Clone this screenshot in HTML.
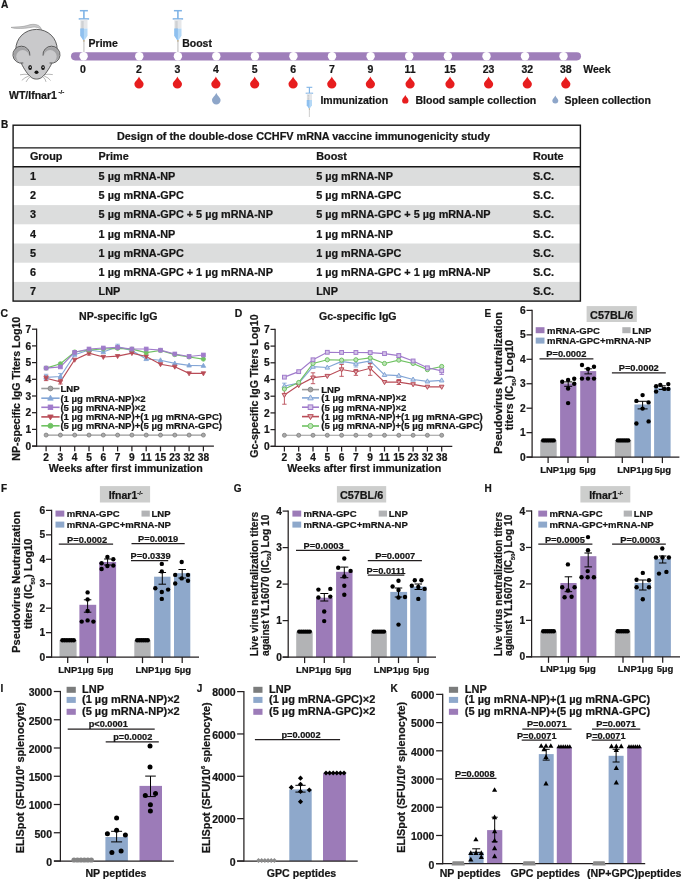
<!DOCTYPE html>
<html><head><meta charset="utf-8"><style>
html,body{margin:0;padding:0;background:#fff;}
svg{display:block;will-change:transform;font-family:"Liberation Sans",sans-serif;font-weight:bold;}
text{stroke:#161616;stroke-width:0.22px;}
</style></head><body>
<svg width="685" height="880" viewBox="0 0 685 880">
<rect width="685" height="880" fill="#fff"/>
<text x="0.9" y="8.4" font-size="10.2" fill="#161616">A</text>
<path d="M11,27.4 C16,26.6 22,27.2 27,25.6 C31,24.0 35,23.8 38.5,25.4 C40,26.3 41,28 41.6,29.6 C39,27.8 36,26.6 32.5,27.2 C27,28.2 22,28.6 17,28.4 C14.5,28.3 12.5,28 11,27.4 Z" fill="#c9c9ca" stroke="#8d8d8d" stroke-width="0.5"/>
<path d="M15.8,50 C15.6,38 25,29.4 36.5,29.4 C48,29.4 57.4,38 57.2,50 L51.6,63.7 C49,69 45,75 41.5,77.6 C38.6,79.6 34.4,79.6 31.5,77.6 C28,75 24,69 21.5,63.7 L15.8,50 Z" fill="#c9c9cb" stroke="#3a3a3a" stroke-width="0.8"/>
<circle cx="21.4" cy="54.7" r="8.5" fill="#c9c9cb"/>
<circle cx="21.4" cy="54.7" r="7.6" fill="#a2a2a4"/>
<circle cx="22.7" cy="56.6" r="6.5" fill="#c9c9cb"/>
<path d="M29.85,55.59 A8.5,8.5 0 1 0 23.31,62.98" fill="none" stroke="#3a3a3a" stroke-width="0.8"/>
<circle cx="51.5" cy="54.7" r="8.5" fill="#c9c9cb"/>
<circle cx="51.5" cy="54.7" r="7.6" fill="#a2a2a4"/>
<circle cx="50.2" cy="56.6" r="6.5" fill="#c9c9cb"/>
<path d="M43.05,55.59 A8.5,8.5 0 1 1 49.59,62.98" fill="none" stroke="#3a3a3a" stroke-width="0.8"/>
<ellipse cx="30.1" cy="67.4" rx="1.85" ry="2.5" fill="#141414"/>
<circle cx="30.2" cy="67.2" r="0.7" fill="#ffffff"/>
<ellipse cx="43" cy="67.4" rx="1.85" ry="2.5" fill="#141414"/>
<circle cx="43.1" cy="67.2" r="0.7" fill="#ffffff"/>
<ellipse cx="36.5" cy="72.3" rx="2.0" ry="1.7" fill="#141414"/>
<path d="M28.0,74.4 Q24,74 20.0,74.8" fill="none" stroke="#6f6f6f" stroke-width="0.5"/>
<path d="M28.8,76.0 Q24.5,77.5 21.8,80.4" fill="none" stroke="#6f6f6f" stroke-width="0.5"/>
<path d="M29.8,77.0 Q27.5,79 26.1,81.9" fill="none" stroke="#6f6f6f" stroke-width="0.5"/>
<path d="M45.0,74.4 Q49,74 52.8,74.6" fill="none" stroke="#6f6f6f" stroke-width="0.5"/>
<path d="M44.2,76.0 Q48.5,77.5 50.6,80.5" fill="none" stroke="#6f6f6f" stroke-width="0.5"/>
<path d="M43.2,77.0 Q45.5,79 46.0,81.9" fill="none" stroke="#6f6f6f" stroke-width="0.5"/>
<text x="9" y="98.9" font-size="10.5" fill="#161616">WT/Ifnar1</text>
<text x="58.6" y="94.2" font-size="6" fill="#161616">-/-</text>
<line x1="79.9" y1="10.7" x2="87.9" y2="10.7" stroke="#7fb3e6" stroke-width="1.5"/>
<line x1="83.9" y1="10.7" x2="83.9" y2="18.9" stroke="#7fb3e6" stroke-width="1.6"/>
<line x1="78.7" y1="18.9" x2="89.1" y2="18.9" stroke="#7fb3e6" stroke-width="1.5"/>
<rect x="80.3" y="19.6" width="7.2" height="8.8" fill="#e6e7e9"/>
<path d="M80.3,28.4 L87.5,28.4 L87.5,35.7 L84.5,40.2 L83.3,40.2 L80.3,35.7 Z" fill="#b4d8f6" stroke="none" stroke-width="1"/>
<path d="M80.3,28.4 L83.9,28.4 L83.9,40.2 L83.3,40.2 L80.3,35.7 Z" fill="#8fc0ef" stroke="none" stroke-width="1"/>
<line x1="81.3" y1="22" x2="83.7" y2="22" stroke="#9a9ea4" stroke-width="0.6"/>
<line x1="81.3" y1="24" x2="83.7" y2="24" stroke="#9a9ea4" stroke-width="0.6"/>
<line x1="81.3" y1="26" x2="83.7" y2="26" stroke="#9a9ea4" stroke-width="0.6"/>
<line x1="81.3" y1="28" x2="83.7" y2="28" stroke="#9a9ea4" stroke-width="0.6"/>
<line x1="83.9" y1="40.2" x2="83.9" y2="52" stroke="#d4d4d4" stroke-width="1.6"/>
<line x1="83.9" y1="40.2" x2="83.9" y2="41.4" stroke="#b8a070" stroke-width="1.4"/>
<line x1="173.9" y1="10.7" x2="181.9" y2="10.7" stroke="#7fb3e6" stroke-width="1.5"/>
<line x1="177.9" y1="10.7" x2="177.9" y2="18.9" stroke="#7fb3e6" stroke-width="1.6"/>
<line x1="172.7" y1="18.9" x2="183.1" y2="18.9" stroke="#7fb3e6" stroke-width="1.5"/>
<rect x="174.3" y="19.6" width="7.2" height="8.8" fill="#e6e7e9"/>
<path d="M174.3,28.4 L181.5,28.4 L181.5,35.7 L178.5,40.2 L177.3,40.2 L174.3,35.7 Z" fill="#b4d8f6" stroke="none" stroke-width="1"/>
<path d="M174.3,28.4 L177.9,28.4 L177.9,40.2 L177.3,40.2 L174.3,35.7 Z" fill="#8fc0ef" stroke="none" stroke-width="1"/>
<line x1="175.3" y1="22" x2="177.7" y2="22" stroke="#9a9ea4" stroke-width="0.6"/>
<line x1="175.3" y1="24" x2="177.7" y2="24" stroke="#9a9ea4" stroke-width="0.6"/>
<line x1="175.3" y1="26" x2="177.7" y2="26" stroke="#9a9ea4" stroke-width="0.6"/>
<line x1="175.3" y1="28" x2="177.7" y2="28" stroke="#9a9ea4" stroke-width="0.6"/>
<line x1="177.9" y1="40.2" x2="177.9" y2="52" stroke="#d4d4d4" stroke-width="1.6"/>
<line x1="177.9" y1="40.2" x2="177.9" y2="41.4" stroke="#b8a070" stroke-width="1.4"/>
<text x="88.6" y="47.4" font-size="10.5" fill="#161616">Prime</text>
<text x="182.2" y="47.4" font-size="10.5" fill="#161616">Boost</text>
<rect x="71" y="52.2" width="510" height="8.2" fill="#9f7fba" rx="4.1"/>
<circle cx="83.6" cy="56.3" r="4.2" fill="#ffffff"/>
<circle cx="139.3" cy="56.3" r="4.2" fill="#ffffff"/>
<circle cx="177.9" cy="56.3" r="4.2" fill="#ffffff"/>
<circle cx="216.3" cy="56.3" r="4.2" fill="#ffffff"/>
<circle cx="254.9" cy="56.3" r="4.2" fill="#ffffff"/>
<circle cx="293.4" cy="56.3" r="4.2" fill="#ffffff"/>
<circle cx="332" cy="56.3" r="4.2" fill="#ffffff"/>
<circle cx="370.6" cy="56.3" r="4.2" fill="#ffffff"/>
<circle cx="409.2" cy="56.3" r="4.2" fill="#ffffff"/>
<circle cx="447.9" cy="56.3" r="4.2" fill="#ffffff"/>
<circle cx="486.5" cy="56.3" r="4.2" fill="#ffffff"/>
<circle cx="525" cy="56.3" r="4.2" fill="#ffffff"/>
<circle cx="563.5" cy="56.3" r="4.2" fill="#ffffff"/>
<text x="82.9" y="72.6" font-size="10.5" text-anchor="middle" fill="#161616">0</text>
<text x="139" y="72.6" font-size="10.5" text-anchor="middle" fill="#161616">2</text>
<text x="177.4" y="72.6" font-size="10.5" text-anchor="middle" fill="#161616">3</text>
<text x="215.9" y="72.6" font-size="10.5" text-anchor="middle" fill="#161616">4</text>
<text x="254.7" y="72.6" font-size="10.5" text-anchor="middle" fill="#161616">5</text>
<text x="293.1" y="72.6" font-size="10.5" text-anchor="middle" fill="#161616">6</text>
<text x="331.8" y="72.6" font-size="10.5" text-anchor="middle" fill="#161616">7</text>
<text x="370.4" y="72.6" font-size="10.5" text-anchor="middle" fill="#161616">9</text>
<text x="410.1" y="72.6" font-size="10.5" text-anchor="middle" fill="#161616">11</text>
<text x="450" y="72.6" font-size="10.5" text-anchor="middle" fill="#161616">15</text>
<text x="488.6" y="72.6" font-size="10.5" text-anchor="middle" fill="#161616">23</text>
<text x="527.3" y="72.6" font-size="10.5" text-anchor="middle" fill="#161616">32</text>
<text x="565.8" y="72.6" font-size="10.5" text-anchor="middle" fill="#161616">38</text>
<text x="583.3" y="72.6" font-size="10.5" fill="#161616">Week</text>
<path d="M139,76.4 C139.8,79.45 143.6,81.24 143.6,84 A4.6,4.6 0 0 1 134.4,84 C134.4,81.24 138.2,79.45 139,76.4 Z" fill="#e71d1e" stroke="none" stroke-width="1"/>
<path d="M177.4,76.4 C178.2,79.45 182,81.24 182,84 A4.6,4.6 0 0 1 172.8,84 C172.8,81.24 176.6,79.45 177.4,76.4 Z" fill="#e71d1e" stroke="none" stroke-width="1"/>
<path d="M215.9,76.4 C216.7,79.45 220.5,81.24 220.5,84 A4.6,4.6 0 0 1 211.3,84 C211.3,81.24 215.1,79.45 215.9,76.4 Z" fill="#e71d1e" stroke="none" stroke-width="1"/>
<path d="M254.7,76.4 C255.5,79.45 259.3,81.24 259.3,84 A4.6,4.6 0 0 1 250.1,84 C250.1,81.24 253.9,79.45 254.7,76.4 Z" fill="#e71d1e" stroke="none" stroke-width="1"/>
<path d="M293.1,76.4 C293.9,79.45 297.7,81.24 297.7,84 A4.6,4.6 0 0 1 288.5,84 C288.5,81.24 292.3,79.45 293.1,76.4 Z" fill="#e71d1e" stroke="none" stroke-width="1"/>
<path d="M331.8,76.4 C332.6,79.45 336.4,81.24 336.4,84 A4.6,4.6 0 0 1 327.2,84 C327.2,81.24 331,79.45 331.8,76.4 Z" fill="#e71d1e" stroke="none" stroke-width="1"/>
<path d="M370.4,76.4 C371.2,79.45 375,81.24 375,84 A4.6,4.6 0 0 1 365.8,84 C365.8,81.24 369.6,79.45 370.4,76.4 Z" fill="#e71d1e" stroke="none" stroke-width="1"/>
<path d="M410.1,76.4 C410.9,79.45 414.7,81.24 414.7,84 A4.6,4.6 0 0 1 405.5,84 C405.5,81.24 409.3,79.45 410.1,76.4 Z" fill="#e71d1e" stroke="none" stroke-width="1"/>
<path d="M450,76.4 C450.8,79.45 454.6,81.24 454.6,84 A4.6,4.6 0 0 1 445.4,84 C445.4,81.24 449.2,79.45 450,76.4 Z" fill="#e71d1e" stroke="none" stroke-width="1"/>
<path d="M488.6,76.4 C489.4,79.45 493.2,81.24 493.2,84 A4.6,4.6 0 0 1 484,84 C484,81.24 487.8,79.45 488.6,76.4 Z" fill="#e71d1e" stroke="none" stroke-width="1"/>
<path d="M527.3,76.4 C528.1,79.45 531.9,81.24 531.9,84 A4.6,4.6 0 0 1 522.7,84 C522.7,81.24 526.5,79.45 527.3,76.4 Z" fill="#e71d1e" stroke="none" stroke-width="1"/>
<path d="M565.8,76.4 C566.6,79.45 570.4,81.24 570.4,84 A4.6,4.6 0 0 1 561.2,84 C561.2,81.24 565,79.45 565.8,76.4 Z" fill="#e71d1e" stroke="none" stroke-width="1"/>
<path d="M216.3,92.7 C217.1,95.62 220.6,97.52 220.6,100.1 A4.3,4.3 0 0 1 212,100.1 C212,97.52 215.5,95.62 216.3,92.7 Z" fill="#8ea6c9" stroke="none" stroke-width="1"/>
<line x1="306.52" y1="87.3" x2="312.28" y2="87.3" stroke="#7fb3e6" stroke-width="1.08"/>
<line x1="309.4" y1="87.3" x2="309.4" y2="93.2" stroke="#7fb3e6" stroke-width="1.15"/>
<line x1="305.66" y1="93.2" x2="313.14" y2="93.2" stroke="#7fb3e6" stroke-width="1.08"/>
<rect x="306.81" y="93.71" width="5.18" height="6.34" fill="#e6e7e9"/>
<path d="M306.81,100.04 L311.99,100.04 L311.99,105.3 L309.83,108.54 L308.97,108.54 L306.81,105.3 Z" fill="#b4d8f6" stroke="none" stroke-width="1"/>
<path d="M306.81,100.04 L309.4,100.04 L309.4,108.54 L308.97,108.54 L306.81,105.3 Z" fill="#8fc0ef" stroke="none" stroke-width="1"/>
<line x1="307.53" y1="95.44" x2="309.26" y2="95.44" stroke="#9a9ea4" stroke-width="0.43"/>
<line x1="307.53" y1="96.88" x2="309.26" y2="96.88" stroke="#9a9ea4" stroke-width="0.43"/>
<line x1="307.53" y1="98.32" x2="309.26" y2="98.32" stroke="#9a9ea4" stroke-width="0.43"/>
<line x1="307.53" y1="99.76" x2="309.26" y2="99.76" stroke="#9a9ea4" stroke-width="0.43"/>
<line x1="309.4" y1="108.54" x2="309.4" y2="117.04" stroke="#d4d4d4" stroke-width="1.15"/>
<line x1="309.4" y1="108.54" x2="309.4" y2="109.4" stroke="#b8a070" stroke-width="1.01"/>
<text x="320.4" y="104.4" font-size="10.5" fill="#161616">Immunization</text>
<path d="M405.3,95 C406.1,97.15 408.5,98.48 408.5,100.4 A3.2,3.2 0 0 1 402.1,100.4 C402.1,98.48 404.5,97.15 405.3,95 Z" fill="#e71d1e" stroke="none" stroke-width="1"/>
<text x="415.5" y="104.4" font-size="10.5" fill="#161616">Blood sample collection</text>
<path d="M555.3,95.4 C556.1,97.45 558.3,98.8 558.3,100.6 A3,3 0 0 1 552.3,100.6 C552.3,98.8 554.5,97.45 555.3,95.4 Z" fill="#8ea6c9" stroke="none" stroke-width="1"/>
<text x="564.5" y="104.4" font-size="10.5" fill="#161616">Spleen collection</text>
<text x="0.9" y="127.9" font-size="10" fill="#161616">B</text>
<rect x="13.1" y="166.7" width="567.3" height="19.2" fill="#dcdddd"/>
<rect x="13.1" y="205.1" width="567.3" height="19.2" fill="#dcdddd"/>
<rect x="13.1" y="243.5" width="567.3" height="19.2" fill="#dcdddd"/>
<rect x="13.1" y="281.9" width="567.3" height="19.2" fill="#dcdddd"/>
<rect x="13.1" y="125.2" width="567.3" height="175.9" fill="none" stroke="#161616" stroke-width="1.4"/>
<line x1="13.1" y1="147.9" x2="580.4" y2="147.9" stroke="#161616" stroke-width="1.4"/>
<line x1="13.1" y1="166.7" x2="580.4" y2="166.7" stroke="#161616" stroke-width="1.4"/>
<text x="117" y="139.6" font-size="10.85" fill="#161616">Design of the double-dose CCHFV mRNA vaccine immunogenicity study</text>
<text x="29.9" y="160.4" font-size="10.85" fill="#161616">Group</text>
<text x="98.6" y="160.4" font-size="10.85" fill="#161616">Prime</text>
<text x="316.2" y="160.4" font-size="10.85" fill="#161616">Boost</text>
<text x="532.9" y="160.4" font-size="10.85" fill="#161616">Route</text>
<text x="29.9" y="179.9" font-size="10.85" fill="#161616">1</text>
<text x="98.6" y="179.9" font-size="10.85" fill="#161616">5 µg mRNA-NP</text>
<text x="316.2" y="179.9" font-size="10.85" fill="#161616">5 µg mRNA-NP</text>
<text x="532.9" y="179.9" font-size="10.85" fill="#161616">S.C.</text>
<text x="29.9" y="199.1" font-size="10.85" fill="#161616">2</text>
<text x="98.6" y="199.1" font-size="10.85" fill="#161616">5 µg mRNA-GPC</text>
<text x="316.2" y="199.1" font-size="10.85" fill="#161616">5 µg mRNA-GPC</text>
<text x="532.9" y="199.1" font-size="10.85" fill="#161616">S.C.</text>
<text x="29.9" y="218.3" font-size="10.85" fill="#161616">3</text>
<text x="98.6" y="218.3" font-size="10.85" fill="#161616">5 µg mRNA-GPC + 5 µg mRNA-NP</text>
<text x="316.2" y="218.3" font-size="10.85" fill="#161616">5 µg mRNA-GPC + 5 µg mRNA-NP</text>
<text x="532.9" y="218.3" font-size="10.85" fill="#161616">S.C.</text>
<text x="29.9" y="237.5" font-size="10.85" fill="#161616">4</text>
<text x="98.6" y="237.5" font-size="10.85" fill="#161616">1 µg mRNA-NP</text>
<text x="316.2" y="237.5" font-size="10.85" fill="#161616">1 µg mRNA-NP</text>
<text x="532.9" y="237.5" font-size="10.85" fill="#161616">S.C.</text>
<text x="29.9" y="256.7" font-size="10.85" fill="#161616">5</text>
<text x="98.6" y="256.7" font-size="10.85" fill="#161616">1 µg mRNA-GPC</text>
<text x="316.2" y="256.7" font-size="10.85" fill="#161616">1 µg mRNA-GPC</text>
<text x="532.9" y="256.7" font-size="10.85" fill="#161616">S.C.</text>
<text x="29.9" y="275.9" font-size="10.85" fill="#161616">6</text>
<text x="98.6" y="275.9" font-size="10.85" fill="#161616">1 µg mRNA-GPC + 1 µg mRNA-NP</text>
<text x="316.2" y="275.9" font-size="10.85" fill="#161616">1 µg mRNA-GPC + 1 µg mRNA-NP</text>
<text x="532.9" y="275.9" font-size="10.85" fill="#161616">S.C.</text>
<text x="29.9" y="295.1" font-size="10.85" fill="#161616">7</text>
<text x="98.6" y="295.1" font-size="10.85" fill="#161616">LNP</text>
<text x="316.2" y="295.1" font-size="10.85" fill="#161616">LNP</text>
<text x="532.9" y="295.1" font-size="10.85" fill="#161616">S.C.</text>
<text x="0.6" y="316.9" font-size="10.4" fill="#161616">C</text>
<line x1="36.6" y1="328.6" x2="36.6" y2="446.7" stroke="#231f20" stroke-width="1.25"/>
<line x1="32" y1="446.1" x2="36.6" y2="446.1" stroke="#231f20" stroke-width="1.25"/>
<text x="31.1" y="449.7" font-size="10.2" text-anchor="end" fill="#161616">0</text>
<line x1="32" y1="429.4" x2="36.6" y2="429.4" stroke="#231f20" stroke-width="1.25"/>
<text x="31.1" y="433" font-size="10.2" text-anchor="end" fill="#161616">1</text>
<line x1="32" y1="412.7" x2="36.6" y2="412.7" stroke="#231f20" stroke-width="1.25"/>
<text x="31.1" y="416.3" font-size="10.2" text-anchor="end" fill="#161616">2</text>
<line x1="32" y1="396" x2="36.6" y2="396" stroke="#231f20" stroke-width="1.25"/>
<text x="31.1" y="399.6" font-size="10.2" text-anchor="end" fill="#161616">3</text>
<line x1="32" y1="379.3" x2="36.6" y2="379.3" stroke="#231f20" stroke-width="1.25"/>
<text x="31.1" y="382.9" font-size="10.2" text-anchor="end" fill="#161616">4</text>
<line x1="32" y1="362.6" x2="36.6" y2="362.6" stroke="#231f20" stroke-width="1.25"/>
<text x="31.1" y="366.2" font-size="10.2" text-anchor="end" fill="#161616">5</text>
<line x1="32" y1="345.9" x2="36.6" y2="345.9" stroke="#231f20" stroke-width="1.25"/>
<text x="31.1" y="349.5" font-size="10.2" text-anchor="end" fill="#161616">6</text>
<line x1="32" y1="329.2" x2="36.6" y2="329.2" stroke="#231f20" stroke-width="1.25"/>
<text x="31.1" y="332.8" font-size="10.2" text-anchor="end" fill="#161616">7</text>
<line x1="32.2" y1="446.1" x2="213.9" y2="446.1" stroke="#231f20" stroke-width="1.25"/>
<line x1="46.1" y1="446.1" x2="46.1" y2="451.3" stroke="#231f20" stroke-width="1.25"/>
<text x="46.1" y="460.8" font-size="10.2" text-anchor="middle" fill="#161616">2</text>
<line x1="60.4" y1="446.1" x2="60.4" y2="451.3" stroke="#231f20" stroke-width="1.25"/>
<text x="60.4" y="460.8" font-size="10.2" text-anchor="middle" fill="#161616">3</text>
<line x1="74.7" y1="446.1" x2="74.7" y2="451.3" stroke="#231f20" stroke-width="1.25"/>
<text x="74.7" y="460.8" font-size="10.2" text-anchor="middle" fill="#161616">4</text>
<line x1="89" y1="446.1" x2="89" y2="451.3" stroke="#231f20" stroke-width="1.25"/>
<text x="89" y="460.8" font-size="10.2" text-anchor="middle" fill="#161616">5</text>
<line x1="103.3" y1="446.1" x2="103.3" y2="451.3" stroke="#231f20" stroke-width="1.25"/>
<text x="103.3" y="460.8" font-size="10.2" text-anchor="middle" fill="#161616">6</text>
<line x1="117.6" y1="446.1" x2="117.6" y2="451.3" stroke="#231f20" stroke-width="1.25"/>
<text x="117.6" y="460.8" font-size="10.2" text-anchor="middle" fill="#161616">7</text>
<line x1="131.9" y1="446.1" x2="131.9" y2="451.3" stroke="#231f20" stroke-width="1.25"/>
<text x="131.9" y="460.8" font-size="10.2" text-anchor="middle" fill="#161616">9</text>
<line x1="146.2" y1="446.1" x2="146.2" y2="451.3" stroke="#231f20" stroke-width="1.25"/>
<text x="146.2" y="460.8" font-size="10.2" text-anchor="middle" fill="#161616">11</text>
<line x1="160.5" y1="446.1" x2="160.5" y2="451.3" stroke="#231f20" stroke-width="1.25"/>
<text x="160.5" y="460.8" font-size="10.2" text-anchor="middle" fill="#161616">15</text>
<line x1="174.8" y1="446.1" x2="174.8" y2="451.3" stroke="#231f20" stroke-width="1.25"/>
<text x="174.8" y="460.8" font-size="10.2" text-anchor="middle" fill="#161616">23</text>
<line x1="189.1" y1="446.1" x2="189.1" y2="451.3" stroke="#231f20" stroke-width="1.25"/>
<text x="189.1" y="460.8" font-size="10.2" text-anchor="middle" fill="#161616">32</text>
<line x1="203.4" y1="446.1" x2="203.4" y2="451.3" stroke="#231f20" stroke-width="1.25"/>
<text x="203.4" y="460.8" font-size="10.2" text-anchor="middle" fill="#161616">38</text>
<text x="125.8" y="471.7" font-size="10.65" text-anchor="middle" fill="#161616">Weeks after first immunization</text>
<text x="79.1" y="319.6" font-size="10.6" fill="#161616">NP-specific IgG</text>
<text x="20" y="388.75" font-size="10.58" text-anchor="middle" fill="#161616" transform="rotate(-90 20 388.75)">NP-specific IgG Titers Log10</text>
<polyline points="46.1,435.08 60.4,435.08 74.7,435.08 89,435.08 103.3,435.08 117.6,435.08 131.9,435.08 146.2,435.08 160.5,435.08 174.8,435.08 189.1,435.08 203.4,435.08" fill="none" stroke="#9a9a9a" stroke-width="1.1"/>
<circle cx="46.1" cy="435.08" r="2" fill="#a9a9a9" stroke="#7e7e7e" stroke-width="0.8"/>
<circle cx="60.4" cy="435.08" r="2" fill="#a9a9a9" stroke="#7e7e7e" stroke-width="0.8"/>
<circle cx="74.7" cy="435.08" r="2" fill="#a9a9a9" stroke="#7e7e7e" stroke-width="0.8"/>
<circle cx="89" cy="435.08" r="2" fill="#a9a9a9" stroke="#7e7e7e" stroke-width="0.8"/>
<circle cx="103.3" cy="435.08" r="2" fill="#a9a9a9" stroke="#7e7e7e" stroke-width="0.8"/>
<circle cx="117.6" cy="435.08" r="2" fill="#a9a9a9" stroke="#7e7e7e" stroke-width="0.8"/>
<circle cx="131.9" cy="435.08" r="2" fill="#a9a9a9" stroke="#7e7e7e" stroke-width="0.8"/>
<circle cx="146.2" cy="435.08" r="2" fill="#a9a9a9" stroke="#7e7e7e" stroke-width="0.8"/>
<circle cx="160.5" cy="435.08" r="2" fill="#a9a9a9" stroke="#7e7e7e" stroke-width="0.8"/>
<circle cx="174.8" cy="435.08" r="2" fill="#a9a9a9" stroke="#7e7e7e" stroke-width="0.8"/>
<circle cx="189.1" cy="435.08" r="2" fill="#a9a9a9" stroke="#7e7e7e" stroke-width="0.8"/>
<circle cx="203.4" cy="435.08" r="2" fill="#a9a9a9" stroke="#7e7e7e" stroke-width="0.8"/>
<line x1="46.1" y1="374.29" x2="46.1" y2="379.63" stroke="#84a6d6" stroke-width="0.9"/>
<line x1="43.9" y1="374.29" x2="48.3" y2="374.29" stroke="#84a6d6" stroke-width="0.9"/>
<line x1="43.9" y1="379.63" x2="48.3" y2="379.63" stroke="#84a6d6" stroke-width="0.9"/>
<line x1="60.4" y1="373.46" x2="60.4" y2="378.47" stroke="#84a6d6" stroke-width="0.9"/>
<line x1="58.2" y1="373.46" x2="62.6" y2="373.46" stroke="#84a6d6" stroke-width="0.9"/>
<line x1="58.2" y1="378.47" x2="62.6" y2="378.47" stroke="#84a6d6" stroke-width="0.9"/>
<line x1="117.6" y1="344.23" x2="117.6" y2="348.41" stroke="#84a6d6" stroke-width="0.9"/>
<line x1="115.4" y1="344.23" x2="119.8" y2="344.23" stroke="#84a6d6" stroke-width="0.9"/>
<line x1="115.4" y1="348.41" x2="119.8" y2="348.41" stroke="#84a6d6" stroke-width="0.9"/>
<line x1="46.1" y1="375.63" x2="46.1" y2="380.64" stroke="#b94c57" stroke-width="0.9"/>
<line x1="43.9" y1="375.63" x2="48.3" y2="375.63" stroke="#b94c57" stroke-width="0.9"/>
<line x1="43.9" y1="380.64" x2="48.3" y2="380.64" stroke="#b94c57" stroke-width="0.9"/>
<line x1="60.4" y1="379.3" x2="60.4" y2="383.98" stroke="#b94c57" stroke-width="0.9"/>
<line x1="58.2" y1="379.3" x2="62.6" y2="379.3" stroke="#b94c57" stroke-width="0.9"/>
<line x1="58.2" y1="383.98" x2="62.6" y2="383.98" stroke="#b94c57" stroke-width="0.9"/>
<line x1="89" y1="350.91" x2="89" y2="355.09" stroke="#b94c57" stroke-width="0.9"/>
<line x1="86.8" y1="350.91" x2="91.2" y2="350.91" stroke="#b94c57" stroke-width="0.9"/>
<line x1="86.8" y1="355.09" x2="91.2" y2="355.09" stroke="#b94c57" stroke-width="0.9"/>
<polyline points="46.1,377.38 60.4,376.55 74.7,354.63 89,349.99 103.3,351.98 117.6,346.67 131.9,350.65 146.2,358.95 160.5,360.28 174.8,363.43 189.1,365.42 203.4,365.76" fill="none" stroke="#84a6d6" stroke-width="1.15"/>
<polyline points="46.1,378.21 60.4,381.86 74.7,359.78 89,353.14 103.3,356.96 117.6,356.13 131.9,353.14 146.2,356.46 160.5,364.26 174.8,366.75 189.1,373.39 203.4,373.39" fill="none" stroke="#b94c57" stroke-width="1.15"/>
<polyline points="46.1,368.08 60.4,363.76 74.7,351.98 89,349.99 103.3,348.99 117.6,348.33 131.9,349.16 146.2,352.64 160.5,350.48 174.8,354.63 189.1,356.96 203.4,359.12" fill="none" stroke="#6fc262" stroke-width="1.15"/>
<polyline points="46.1,368.08 60.4,366.92 74.7,352.31 89,348.99 103.3,347.99 117.6,347.33 131.9,348.99 146.2,348.99 160.5,350.15 174.8,353.97 189.1,356.46 203.4,354.97" fill="none" stroke="#a07bcb" stroke-width="1.15"/>
<path d="M46.1,374.91 L48.38,378.99 L43.82,378.99 Z" fill="#84a6d6" stroke="#84a6d6" stroke-width="0.8"/>
<path d="M60.4,374.08 L62.68,378.16 L58.12,378.16 Z" fill="#84a6d6" stroke="#84a6d6" stroke-width="0.8"/>
<path d="M74.7,352.16 L76.98,356.25 L72.42,356.25 Z" fill="#84a6d6" stroke="#84a6d6" stroke-width="0.8"/>
<path d="M89,347.52 L91.28,351.6 L86.72,351.6 Z" fill="#84a6d6" stroke="#84a6d6" stroke-width="0.8"/>
<path d="M103.3,349.51 L105.58,353.59 L101.02,353.59 Z" fill="#84a6d6" stroke="#84a6d6" stroke-width="0.8"/>
<path d="M117.6,344.2 L119.88,348.28 L115.32,348.28 Z" fill="#84a6d6" stroke="#84a6d6" stroke-width="0.8"/>
<path d="M131.9,348.18 L134.18,352.27 L129.62,352.27 Z" fill="#84a6d6" stroke="#84a6d6" stroke-width="0.8"/>
<path d="M146.2,356.48 L148.48,360.57 L143.92,360.57 Z" fill="#84a6d6" stroke="#84a6d6" stroke-width="0.8"/>
<path d="M160.5,357.81 L162.78,361.89 L158.22,361.89 Z" fill="#84a6d6" stroke="#84a6d6" stroke-width="0.8"/>
<path d="M174.8,360.96 L177.08,365.05 L172.52,365.05 Z" fill="#84a6d6" stroke="#84a6d6" stroke-width="0.8"/>
<path d="M189.1,362.95 L191.38,367.04 L186.82,367.04 Z" fill="#84a6d6" stroke="#84a6d6" stroke-width="0.8"/>
<path d="M203.4,363.29 L205.68,367.37 L201.12,367.37 Z" fill="#84a6d6" stroke="#84a6d6" stroke-width="0.8"/>
<path d="M46.1,380.68 L48.38,376.59 L43.82,376.59 Z" fill="#b94c57" stroke="#b94c57" stroke-width="0.8"/>
<path d="M60.4,384.33 L62.68,380.24 L58.12,380.24 Z" fill="#b94c57" stroke="#b94c57" stroke-width="0.8"/>
<path d="M74.7,362.25 L76.98,358.17 L72.42,358.17 Z" fill="#b94c57" stroke="#b94c57" stroke-width="0.8"/>
<path d="M89,355.61 L91.28,351.52 L86.72,351.52 Z" fill="#b94c57" stroke="#b94c57" stroke-width="0.8"/>
<path d="M103.3,359.43 L105.58,355.34 L101.02,355.34 Z" fill="#b94c57" stroke="#b94c57" stroke-width="0.8"/>
<path d="M117.6,358.6 L119.88,354.51 L115.32,354.51 Z" fill="#b94c57" stroke="#b94c57" stroke-width="0.8"/>
<path d="M131.9,355.61 L134.18,351.52 L129.62,351.52 Z" fill="#b94c57" stroke="#b94c57" stroke-width="0.8"/>
<path d="M146.2,358.93 L148.48,354.85 L143.92,354.85 Z" fill="#b94c57" stroke="#b94c57" stroke-width="0.8"/>
<path d="M160.5,366.73 L162.78,362.65 L158.22,362.65 Z" fill="#b94c57" stroke="#b94c57" stroke-width="0.8"/>
<path d="M174.8,369.22 L177.08,365.14 L172.52,365.14 Z" fill="#b94c57" stroke="#b94c57" stroke-width="0.8"/>
<path d="M189.1,375.86 L191.38,371.78 L186.82,371.78 Z" fill="#b94c57" stroke="#b94c57" stroke-width="0.8"/>
<path d="M203.4,375.86 L205.68,371.78 L201.12,371.78 Z" fill="#b94c57" stroke="#b94c57" stroke-width="0.8"/>
<circle cx="46.1" cy="368.08" r="2.09" fill="#6fc262" stroke="#6fc262" stroke-width="0.8"/>
<circle cx="60.4" cy="363.76" r="2.09" fill="#6fc262" stroke="#6fc262" stroke-width="0.8"/>
<circle cx="74.7" cy="351.98" r="2.09" fill="#6fc262" stroke="#6fc262" stroke-width="0.8"/>
<circle cx="89" cy="349.99" r="2.09" fill="#6fc262" stroke="#6fc262" stroke-width="0.8"/>
<circle cx="103.3" cy="348.99" r="2.09" fill="#6fc262" stroke="#6fc262" stroke-width="0.8"/>
<circle cx="117.6" cy="348.33" r="2.09" fill="#6fc262" stroke="#6fc262" stroke-width="0.8"/>
<circle cx="131.9" cy="349.16" r="2.09" fill="#6fc262" stroke="#6fc262" stroke-width="0.8"/>
<circle cx="146.2" cy="352.64" r="2.09" fill="#6fc262" stroke="#6fc262" stroke-width="0.8"/>
<circle cx="160.5" cy="350.48" r="2.09" fill="#6fc262" stroke="#6fc262" stroke-width="0.8"/>
<circle cx="174.8" cy="354.63" r="2.09" fill="#6fc262" stroke="#6fc262" stroke-width="0.8"/>
<circle cx="189.1" cy="356.96" r="2.09" fill="#6fc262" stroke="#6fc262" stroke-width="0.8"/>
<circle cx="203.4" cy="359.12" r="2.09" fill="#6fc262" stroke="#6fc262" stroke-width="0.8"/>
<rect x="44.2" y="366.18" width="3.8" height="3.8" fill="#a07bcb" stroke="#a07bcb" stroke-width="0.8"/>
<rect x="58.5" y="365.02" width="3.8" height="3.8" fill="#a07bcb" stroke="#a07bcb" stroke-width="0.8"/>
<rect x="72.8" y="350.41" width="3.8" height="3.8" fill="#a07bcb" stroke="#a07bcb" stroke-width="0.8"/>
<rect x="87.1" y="347.09" width="3.8" height="3.8" fill="#a07bcb" stroke="#a07bcb" stroke-width="0.8"/>
<rect x="101.4" y="346.09" width="3.8" height="3.8" fill="#a07bcb" stroke="#a07bcb" stroke-width="0.8"/>
<rect x="115.7" y="345.43" width="3.8" height="3.8" fill="#a07bcb" stroke="#a07bcb" stroke-width="0.8"/>
<rect x="130" y="347.09" width="3.8" height="3.8" fill="#a07bcb" stroke="#a07bcb" stroke-width="0.8"/>
<rect x="144.3" y="347.09" width="3.8" height="3.8" fill="#a07bcb" stroke="#a07bcb" stroke-width="0.8"/>
<rect x="158.6" y="348.25" width="3.8" height="3.8" fill="#a07bcb" stroke="#a07bcb" stroke-width="0.8"/>
<rect x="172.9" y="352.07" width="3.8" height="3.8" fill="#a07bcb" stroke="#a07bcb" stroke-width="0.8"/>
<rect x="187.2" y="354.56" width="3.8" height="3.8" fill="#a07bcb" stroke="#a07bcb" stroke-width="0.8"/>
<rect x="201.5" y="353.07" width="3.8" height="3.8" fill="#a07bcb" stroke="#a07bcb" stroke-width="0.8"/>
<line x1="41.3" y1="388.5" x2="59.6" y2="388.5" stroke="#9a9a9a" stroke-width="1.6"/>
<circle cx="50.45" cy="388.5" r="2.4" fill="#a3a3a3" stroke="#7f7f7f" stroke-width="0.8"/>
<text x="60.4" y="391.9" font-size="9.6" fill="#161616">LNP</text>
<line x1="41.3" y1="398.2" x2="59.6" y2="398.2" stroke="#84a6d6" stroke-width="1.6"/>
<path d="M50.45,395.21 L53.21,400.15 L47.69,400.15 Z" fill="#84a6d6" stroke="#84a6d6" stroke-width="0.8"/>
<text x="60.4" y="401.6" font-size="9.6" fill="#161616">(1 µg mRNA-NP)×2</text>
<line x1="41.3" y1="407.3" x2="59.6" y2="407.3" stroke="#a07bcb" stroke-width="1.6"/>
<rect x="48.15" y="405" width="4.6" height="4.6" fill="#a07bcb" stroke="#a07bcb" stroke-width="0.8"/>
<text x="60.4" y="410.7" font-size="9.6" fill="#161616">(5 µg mRNA-NP)×2</text>
<line x1="41.3" y1="416.9" x2="59.6" y2="416.9" stroke="#b94c57" stroke-width="1.6"/>
<path d="M50.45,419.89 L53.21,414.94 L47.69,414.94 Z" fill="#b94c57" stroke="#b94c57" stroke-width="0.8"/>
<text x="60.4" y="420.3" font-size="9.6" fill="#161616">(1 µg mRNA-NP)+(1 µg mRNA-GPC)</text>
<line x1="41.3" y1="425.8" x2="59.6" y2="425.8" stroke="#6fc262" stroke-width="1.6"/>
<circle cx="50.45" cy="425.8" r="2.53" fill="#6fc262" stroke="#6fc262" stroke-width="0.8"/>
<text x="60.4" y="429.2" font-size="9.6" fill="#161616">(5 µg mRNA-NP)+(5 µg mRNA-GPC)</text>
<text x="234.8" y="316.8" font-size="10.4" fill="#161616">D</text>
<line x1="275.1" y1="328.8" x2="275.1" y2="446.9" stroke="#231f20" stroke-width="1.25"/>
<line x1="270.5" y1="446.3" x2="275.1" y2="446.3" stroke="#231f20" stroke-width="1.25"/>
<text x="269.6" y="449.9" font-size="10.2" text-anchor="end" fill="#161616">0</text>
<line x1="270.5" y1="429.6" x2="275.1" y2="429.6" stroke="#231f20" stroke-width="1.25"/>
<text x="269.6" y="433.2" font-size="10.2" text-anchor="end" fill="#161616">1</text>
<line x1="270.5" y1="412.9" x2="275.1" y2="412.9" stroke="#231f20" stroke-width="1.25"/>
<text x="269.6" y="416.5" font-size="10.2" text-anchor="end" fill="#161616">2</text>
<line x1="270.5" y1="396.2" x2="275.1" y2="396.2" stroke="#231f20" stroke-width="1.25"/>
<text x="269.6" y="399.8" font-size="10.2" text-anchor="end" fill="#161616">3</text>
<line x1="270.5" y1="379.5" x2="275.1" y2="379.5" stroke="#231f20" stroke-width="1.25"/>
<text x="269.6" y="383.1" font-size="10.2" text-anchor="end" fill="#161616">4</text>
<line x1="270.5" y1="362.8" x2="275.1" y2="362.8" stroke="#231f20" stroke-width="1.25"/>
<text x="269.6" y="366.4" font-size="10.2" text-anchor="end" fill="#161616">5</text>
<line x1="270.5" y1="346.1" x2="275.1" y2="346.1" stroke="#231f20" stroke-width="1.25"/>
<text x="269.6" y="349.7" font-size="10.2" text-anchor="end" fill="#161616">6</text>
<line x1="270.5" y1="329.4" x2="275.1" y2="329.4" stroke="#231f20" stroke-width="1.25"/>
<text x="269.6" y="333" font-size="10.2" text-anchor="end" fill="#161616">7</text>
<line x1="270.7" y1="446.3" x2="452.3" y2="446.3" stroke="#231f20" stroke-width="1.25"/>
<line x1="284.4" y1="446.3" x2="284.4" y2="451.5" stroke="#231f20" stroke-width="1.25"/>
<text x="284.4" y="461" font-size="10.2" text-anchor="middle" fill="#161616">2</text>
<line x1="298.7" y1="446.3" x2="298.7" y2="451.5" stroke="#231f20" stroke-width="1.25"/>
<text x="298.7" y="461" font-size="10.2" text-anchor="middle" fill="#161616">3</text>
<line x1="313" y1="446.3" x2="313" y2="451.5" stroke="#231f20" stroke-width="1.25"/>
<text x="313" y="461" font-size="10.2" text-anchor="middle" fill="#161616">4</text>
<line x1="327.3" y1="446.3" x2="327.3" y2="451.5" stroke="#231f20" stroke-width="1.25"/>
<text x="327.3" y="461" font-size="10.2" text-anchor="middle" fill="#161616">5</text>
<line x1="341.6" y1="446.3" x2="341.6" y2="451.5" stroke="#231f20" stroke-width="1.25"/>
<text x="341.6" y="461" font-size="10.2" text-anchor="middle" fill="#161616">6</text>
<line x1="355.9" y1="446.3" x2="355.9" y2="451.5" stroke="#231f20" stroke-width="1.25"/>
<text x="355.9" y="461" font-size="10.2" text-anchor="middle" fill="#161616">7</text>
<line x1="370.2" y1="446.3" x2="370.2" y2="451.5" stroke="#231f20" stroke-width="1.25"/>
<text x="370.2" y="461" font-size="10.2" text-anchor="middle" fill="#161616">9</text>
<line x1="384.5" y1="446.3" x2="384.5" y2="451.5" stroke="#231f20" stroke-width="1.25"/>
<text x="384.5" y="461" font-size="10.2" text-anchor="middle" fill="#161616">11</text>
<line x1="398.8" y1="446.3" x2="398.8" y2="451.5" stroke="#231f20" stroke-width="1.25"/>
<text x="398.8" y="461" font-size="10.2" text-anchor="middle" fill="#161616">15</text>
<line x1="413.1" y1="446.3" x2="413.1" y2="451.5" stroke="#231f20" stroke-width="1.25"/>
<text x="413.1" y="461" font-size="10.2" text-anchor="middle" fill="#161616">23</text>
<line x1="427.4" y1="446.3" x2="427.4" y2="451.5" stroke="#231f20" stroke-width="1.25"/>
<text x="427.4" y="461" font-size="10.2" text-anchor="middle" fill="#161616">32</text>
<line x1="441.7" y1="446.3" x2="441.7" y2="451.5" stroke="#231f20" stroke-width="1.25"/>
<text x="441.7" y="461" font-size="10.2" text-anchor="middle" fill="#161616">38</text>
<text x="364.3" y="471.9" font-size="10.65" text-anchor="middle" fill="#161616">Weeks after first immunization</text>
<text x="318.9" y="319.6" font-size="10.6" fill="#161616">Gc-specific IgG</text>
<text x="258.3" y="386.1" font-size="10.58" text-anchor="middle" fill="#161616" transform="rotate(-90 258.3 386.1)">Gc-specific IgG Titers Log10</text>
<polyline points="284.4,435.28 298.7,435.28 313,435.28 327.3,435.28 341.6,435.28 355.9,435.28 370.2,435.28 384.5,435.28 398.8,435.28 413.1,435.28 427.4,435.28 441.7,435.28" fill="none" stroke="#9a9a9a" stroke-width="1.1"/>
<circle cx="284.4" cy="435.28" r="2" fill="#a9a9a9" stroke="#7e7e7e" stroke-width="0.8"/>
<circle cx="298.7" cy="435.28" r="2" fill="#a9a9a9" stroke="#7e7e7e" stroke-width="0.8"/>
<circle cx="313" cy="435.28" r="2" fill="#a9a9a9" stroke="#7e7e7e" stroke-width="0.8"/>
<circle cx="327.3" cy="435.28" r="2" fill="#a9a9a9" stroke="#7e7e7e" stroke-width="0.8"/>
<circle cx="341.6" cy="435.28" r="2" fill="#a9a9a9" stroke="#7e7e7e" stroke-width="0.8"/>
<circle cx="355.9" cy="435.28" r="2" fill="#a9a9a9" stroke="#7e7e7e" stroke-width="0.8"/>
<circle cx="370.2" cy="435.28" r="2" fill="#a9a9a9" stroke="#7e7e7e" stroke-width="0.8"/>
<circle cx="384.5" cy="435.28" r="2" fill="#a9a9a9" stroke="#7e7e7e" stroke-width="0.8"/>
<circle cx="398.8" cy="435.28" r="2" fill="#a9a9a9" stroke="#7e7e7e" stroke-width="0.8"/>
<circle cx="413.1" cy="435.28" r="2" fill="#a9a9a9" stroke="#7e7e7e" stroke-width="0.8"/>
<circle cx="427.4" cy="435.28" r="2" fill="#a9a9a9" stroke="#7e7e7e" stroke-width="0.8"/>
<circle cx="441.7" cy="435.28" r="2" fill="#a9a9a9" stroke="#7e7e7e" stroke-width="0.8"/>
<line x1="284.4" y1="383.17" x2="284.4" y2="388.69" stroke="#84a6d6" stroke-width="0.9"/>
<line x1="282.2" y1="383.17" x2="286.6" y2="383.17" stroke="#84a6d6" stroke-width="0.9"/>
<line x1="282.2" y1="388.69" x2="286.6" y2="388.69" stroke="#84a6d6" stroke-width="0.9"/>
<line x1="355.9" y1="360.3" x2="355.9" y2="366.98" stroke="#84a6d6" stroke-width="0.9"/>
<line x1="353.7" y1="360.3" x2="358.1" y2="360.3" stroke="#84a6d6" stroke-width="0.9"/>
<line x1="353.7" y1="366.98" x2="358.1" y2="366.98" stroke="#84a6d6" stroke-width="0.9"/>
<line x1="370.2" y1="358.62" x2="370.2" y2="363.63" stroke="#84a6d6" stroke-width="0.9"/>
<line x1="368" y1="358.62" x2="372.4" y2="358.62" stroke="#84a6d6" stroke-width="0.9"/>
<line x1="368" y1="363.63" x2="372.4" y2="363.63" stroke="#84a6d6" stroke-width="0.9"/>
<line x1="284.4" y1="387.01" x2="284.4" y2="404.22" stroke="#b94c57" stroke-width="0.9"/>
<line x1="282.2" y1="387.01" x2="286.6" y2="387.01" stroke="#b94c57" stroke-width="0.9"/>
<line x1="282.2" y1="404.22" x2="286.6" y2="404.22" stroke="#b94c57" stroke-width="0.9"/>
<line x1="313" y1="372.82" x2="313" y2="383.68" stroke="#b94c57" stroke-width="0.9"/>
<line x1="310.8" y1="372.82" x2="315.2" y2="372.82" stroke="#b94c57" stroke-width="0.9"/>
<line x1="310.8" y1="383.68" x2="315.2" y2="383.68" stroke="#b94c57" stroke-width="0.9"/>
<line x1="341.6" y1="364.47" x2="341.6" y2="376.33" stroke="#b94c57" stroke-width="0.9"/>
<line x1="339.4" y1="364.47" x2="343.8" y2="364.47" stroke="#b94c57" stroke-width="0.9"/>
<line x1="339.4" y1="376.33" x2="343.8" y2="376.33" stroke="#b94c57" stroke-width="0.9"/>
<line x1="355.9" y1="369.48" x2="355.9" y2="375.33" stroke="#b94c57" stroke-width="0.9"/>
<line x1="353.7" y1="369.48" x2="358.1" y2="369.48" stroke="#b94c57" stroke-width="0.9"/>
<line x1="353.7" y1="375.33" x2="358.1" y2="375.33" stroke="#b94c57" stroke-width="0.9"/>
<line x1="370.2" y1="363.63" x2="370.2" y2="375.33" stroke="#b94c57" stroke-width="0.9"/>
<line x1="368" y1="363.63" x2="372.4" y2="363.63" stroke="#b94c57" stroke-width="0.9"/>
<line x1="368" y1="375.33" x2="372.4" y2="375.33" stroke="#b94c57" stroke-width="0.9"/>
<line x1="398.8" y1="379.5" x2="398.8" y2="384.51" stroke="#b94c57" stroke-width="0.9"/>
<line x1="396.6" y1="379.5" x2="401" y2="379.5" stroke="#b94c57" stroke-width="0.9"/>
<line x1="396.6" y1="384.51" x2="401" y2="384.51" stroke="#b94c57" stroke-width="0.9"/>
<line x1="441.7" y1="367.48" x2="441.7" y2="374.49" stroke="#a07bcb" stroke-width="0.9"/>
<line x1="439.5" y1="367.48" x2="443.9" y2="367.48" stroke="#a07bcb" stroke-width="0.9"/>
<line x1="439.5" y1="374.49" x2="443.9" y2="374.49" stroke="#a07bcb" stroke-width="0.9"/>
<line x1="398.8" y1="353.62" x2="398.8" y2="357.79" stroke="#a07bcb" stroke-width="0.9"/>
<line x1="396.6" y1="353.62" x2="401" y2="353.62" stroke="#a07bcb" stroke-width="0.9"/>
<line x1="396.6" y1="357.79" x2="401" y2="357.79" stroke="#a07bcb" stroke-width="0.9"/>
<polyline points="284.4,386.01 298.7,383.17 313,366.64 327.3,367.48 341.6,361.46 355.9,363.63 370.2,360.96 384.5,374.82 398.8,375.66 413.1,379.5 427.4,381.34 441.7,380.34" fill="none" stroke="#84a6d6" stroke-width="1.15"/>
<polyline points="284.4,395.03 298.7,385.18 313,377.66 327.3,375.99 341.6,369.48 355.9,371.99 370.2,368.31 384.5,382.17 398.8,382.17 413.1,384.34 427.4,386.85 441.7,386.85" fill="none" stroke="#b94c57" stroke-width="1.15"/>
<polyline points="284.4,389.02 298.7,382.51 313,363.47 327.3,359.79 341.6,360.13 355.9,359.79 370.2,357.96 384.5,363.47 398.8,360.13 413.1,363.47 427.4,369.65 441.7,366.47" fill="none" stroke="#6fc262" stroke-width="1.15"/>
<polyline points="284.4,377.16 298.7,371.65 313,359.79 327.3,352.28 341.6,352.45 355.9,352.45 370.2,352.61 384.5,353.62 398.8,355.62 413.1,360.96 427.4,367.81 441.7,370.82" fill="none" stroke="#a07bcb" stroke-width="1.15"/>
<path d="M284.4,383.54 L286.68,387.63 L282.12,387.63 Z" fill="#c8d7ed" stroke="#84a6d6" stroke-width="1"/>
<path d="M298.7,380.7 L300.98,384.79 L296.42,384.79 Z" fill="#c8d7ed" stroke="#84a6d6" stroke-width="1"/>
<path d="M313,364.17 L315.28,368.26 L310.72,368.26 Z" fill="#c8d7ed" stroke="#84a6d6" stroke-width="1"/>
<path d="M327.3,365.01 L329.58,369.09 L325.02,369.09 Z" fill="#c8d7ed" stroke="#84a6d6" stroke-width="1"/>
<path d="M341.6,358.99 L343.88,363.08 L339.32,363.08 Z" fill="#c8d7ed" stroke="#84a6d6" stroke-width="1"/>
<path d="M355.9,361.16 L358.18,365.25 L353.62,365.25 Z" fill="#c8d7ed" stroke="#84a6d6" stroke-width="1"/>
<path d="M370.2,358.49 L372.48,362.58 L367.92,362.58 Z" fill="#c8d7ed" stroke="#84a6d6" stroke-width="1"/>
<path d="M384.5,372.35 L386.78,376.44 L382.22,376.44 Z" fill="#c8d7ed" stroke="#84a6d6" stroke-width="1"/>
<path d="M398.8,373.19 L401.08,377.27 L396.52,377.27 Z" fill="#c8d7ed" stroke="#84a6d6" stroke-width="1"/>
<path d="M413.1,377.03 L415.38,381.12 L410.82,381.12 Z" fill="#c8d7ed" stroke="#84a6d6" stroke-width="1"/>
<path d="M427.4,378.87 L429.68,382.95 L425.12,382.95 Z" fill="#c8d7ed" stroke="#84a6d6" stroke-width="1"/>
<path d="M441.7,377.87 L443.98,381.95 L439.42,381.95 Z" fill="#c8d7ed" stroke="#84a6d6" stroke-width="1"/>
<path d="M284.4,397.5 L286.68,393.42 L282.12,393.42 Z" fill="#e0aeb3" stroke="#b94c57" stroke-width="1"/>
<path d="M298.7,387.65 L300.98,383.56 L296.42,383.56 Z" fill="#e0aeb3" stroke="#b94c57" stroke-width="1"/>
<path d="M313,380.13 L315.28,376.05 L310.72,376.05 Z" fill="#e0aeb3" stroke="#b94c57" stroke-width="1"/>
<path d="M327.3,378.46 L329.58,374.38 L325.02,374.38 Z" fill="#e0aeb3" stroke="#b94c57" stroke-width="1"/>
<path d="M341.6,371.95 L343.88,367.87 L339.32,367.87 Z" fill="#e0aeb3" stroke="#b94c57" stroke-width="1"/>
<path d="M355.9,374.46 L358.18,370.37 L353.62,370.37 Z" fill="#e0aeb3" stroke="#b94c57" stroke-width="1"/>
<path d="M370.2,370.78 L372.48,366.7 L367.92,366.7 Z" fill="#e0aeb3" stroke="#b94c57" stroke-width="1"/>
<path d="M384.5,384.64 L386.78,380.56 L382.22,380.56 Z" fill="#e0aeb3" stroke="#b94c57" stroke-width="1"/>
<path d="M398.8,384.64 L401.08,380.56 L396.52,380.56 Z" fill="#e0aeb3" stroke="#b94c57" stroke-width="1"/>
<path d="M413.1,386.81 L415.38,382.73 L410.82,382.73 Z" fill="#e0aeb3" stroke="#b94c57" stroke-width="1"/>
<path d="M427.4,389.32 L429.68,385.23 L425.12,385.23 Z" fill="#e0aeb3" stroke="#b94c57" stroke-width="1"/>
<path d="M441.7,389.32 L443.98,385.23 L439.42,385.23 Z" fill="#e0aeb3" stroke="#b94c57" stroke-width="1"/>
<circle cx="284.4" cy="389.02" r="2.09" fill="#bee4b8" stroke="#6fc262" stroke-width="1"/>
<circle cx="298.7" cy="382.51" r="2.09" fill="#bee4b8" stroke="#6fc262" stroke-width="1"/>
<circle cx="313" cy="363.47" r="2.09" fill="#bee4b8" stroke="#6fc262" stroke-width="1"/>
<circle cx="327.3" cy="359.79" r="2.09" fill="#bee4b8" stroke="#6fc262" stroke-width="1"/>
<circle cx="341.6" cy="360.13" r="2.09" fill="#bee4b8" stroke="#6fc262" stroke-width="1"/>
<circle cx="355.9" cy="359.79" r="2.09" fill="#bee4b8" stroke="#6fc262" stroke-width="1"/>
<circle cx="370.2" cy="357.96" r="2.09" fill="#bee4b8" stroke="#6fc262" stroke-width="1"/>
<circle cx="384.5" cy="363.47" r="2.09" fill="#bee4b8" stroke="#6fc262" stroke-width="1"/>
<circle cx="398.8" cy="360.13" r="2.09" fill="#bee4b8" stroke="#6fc262" stroke-width="1"/>
<circle cx="413.1" cy="363.47" r="2.09" fill="#bee4b8" stroke="#6fc262" stroke-width="1"/>
<circle cx="427.4" cy="369.65" r="2.09" fill="#bee4b8" stroke="#6fc262" stroke-width="1"/>
<circle cx="441.7" cy="366.47" r="2.09" fill="#bee4b8" stroke="#6fc262" stroke-width="1"/>
<rect x="282.5" y="375.26" width="3.8" height="3.8" fill="#d4c4e8" stroke="#a07bcb" stroke-width="1"/>
<rect x="296.8" y="369.75" width="3.8" height="3.8" fill="#d4c4e8" stroke="#a07bcb" stroke-width="1"/>
<rect x="311.1" y="357.89" width="3.8" height="3.8" fill="#d4c4e8" stroke="#a07bcb" stroke-width="1"/>
<rect x="325.4" y="350.38" width="3.8" height="3.8" fill="#d4c4e8" stroke="#a07bcb" stroke-width="1"/>
<rect x="339.7" y="350.55" width="3.8" height="3.8" fill="#d4c4e8" stroke="#a07bcb" stroke-width="1"/>
<rect x="354" y="350.55" width="3.8" height="3.8" fill="#d4c4e8" stroke="#a07bcb" stroke-width="1"/>
<rect x="368.3" y="350.71" width="3.8" height="3.8" fill="#d4c4e8" stroke="#a07bcb" stroke-width="1"/>
<rect x="382.6" y="351.72" width="3.8" height="3.8" fill="#d4c4e8" stroke="#a07bcb" stroke-width="1"/>
<rect x="396.9" y="353.72" width="3.8" height="3.8" fill="#d4c4e8" stroke="#a07bcb" stroke-width="1"/>
<rect x="411.2" y="359.06" width="3.8" height="3.8" fill="#d4c4e8" stroke="#a07bcb" stroke-width="1"/>
<rect x="425.5" y="365.91" width="3.8" height="3.8" fill="#d4c4e8" stroke="#a07bcb" stroke-width="1"/>
<rect x="439.8" y="368.92" width="3.8" height="3.8" fill="#d4c4e8" stroke="#a07bcb" stroke-width="1"/>
<line x1="302" y1="389.6" x2="319" y2="389.6" stroke="#9a9a9a" stroke-width="1.6"/>
<circle cx="310.5" cy="389.6" r="2.4" fill="#a3a3a3" stroke="#7f7f7f" stroke-width="0.8"/>
<text x="321.2" y="393" font-size="9.6" fill="#161616">LNP</text>
<line x1="302" y1="397.9" x2="319" y2="397.9" stroke="#84a6d6" stroke-width="1.6"/>
<path d="M310.5,394.91 L313.26,399.85 L307.74,399.85 Z" fill="#c8d7ed" stroke="#84a6d6" stroke-width="1"/>
<text x="321.2" y="401.3" font-size="9.6" fill="#161616">(1 µg mRNA-NP)×2</text>
<line x1="302" y1="407.2" x2="319" y2="407.2" stroke="#a07bcb" stroke-width="1.6"/>
<rect x="308.2" y="404.9" width="4.6" height="4.6" fill="#d4c4e8" stroke="#a07bcb" stroke-width="1"/>
<text x="321.2" y="410.6" font-size="9.6" fill="#161616">(5 µg mRNA-NP)×2</text>
<line x1="302" y1="416.6" x2="319" y2="416.6" stroke="#b94c57" stroke-width="1.6"/>
<path d="M310.5,419.59 L313.26,414.65 L307.74,414.65 Z" fill="#e0aeb3" stroke="#b94c57" stroke-width="1"/>
<text x="321.2" y="420" font-size="9.6" fill="#161616">(1 µg mRNA-NP)+(1 µg mRNA-GPC)</text>
<line x1="302" y1="426" x2="319" y2="426" stroke="#6fc262" stroke-width="1.6"/>
<circle cx="310.5" cy="426" r="2.53" fill="#bee4b8" stroke="#6fc262" stroke-width="1"/>
<text x="321.2" y="429.4" font-size="9.6" fill="#161616">(5 µg mRNA-NP)+(5 µg mRNA-GPC)</text>
<text x="484.6" y="316.8" font-size="10" fill="#161616">E</text>
<rect x="586.6" y="306.1" width="50.2" height="15.9" fill="#cdcecd"/>
<text x="611.7" y="318.8" font-size="10.8" text-anchor="middle" fill="#161616">C57BL/6</text>
<rect x="535.7" y="327.2" width="8.8" height="6" fill="#9c7bb8"/>
<text x="546.9" y="333.7" font-size="9.55" fill="#161616">mRNA-GPC</text>
<rect x="622.3" y="327.2" width="8.3" height="6" fill="#b2b3b5"/>
<text x="632.3" y="333.7" font-size="9.55" fill="#161616">LNP</text>
<rect x="535.7" y="337.6" width="8.8" height="6" fill="#8ea8cb"/>
<text x="546.9" y="344.1" font-size="9.55" fill="#161616">mRNA-GPC+mRNA-NP</text>
<line x1="539.5" y1="358.9" x2="593.4" y2="358.9" stroke="#231f20" stroke-width="1.25"/>
<text x="546.3" y="357.3" font-size="9.3" fill="#161616">P=0.0002</text>
<line x1="611.9" y1="372.9" x2="665.8" y2="372.9" stroke="#231f20" stroke-width="1.25"/>
<text x="618.7" y="371.3" font-size="9.3" fill="#161616">P=0.0002</text>
<rect x="540.2" y="439.99" width="16.5" height="17.12" fill="#b2b3b5"/>
<rect x="560.1" y="383.4" width="16.3" height="73.7" fill="#9c7bb8"/>
<rect x="580.2" y="371.1" width="16" height="86" fill="#9c7bb8"/>
<rect x="614.9" y="439.99" width="16.3" height="17.12" fill="#b2b3b5"/>
<rect x="634.4" y="404.5" width="16.5" height="52.6" fill="#8ea8cb"/>
<rect x="654.1" y="387.6" width="16.5" height="69.5" fill="#8ea8cb"/>
<line x1="568.2" y1="381.9" x2="568.2" y2="386.3" stroke="#000000" stroke-width="1"/>
<line x1="564.2" y1="381.9" x2="572.2" y2="381.9" stroke="#000000" stroke-width="1"/>
<line x1="564.2" y1="386.3" x2="572.2" y2="386.3" stroke="#000000" stroke-width="1"/>
<line x1="588.2" y1="368.8" x2="588.2" y2="373.9" stroke="#000000" stroke-width="1"/>
<line x1="584.45" y1="368.8" x2="591.95" y2="368.8" stroke="#000000" stroke-width="1"/>
<line x1="584.45" y1="373.9" x2="591.95" y2="373.9" stroke="#000000" stroke-width="1"/>
<line x1="642.6" y1="401.3" x2="642.6" y2="408.9" stroke="#000000" stroke-width="1"/>
<line x1="637.6" y1="401.3" x2="647.6" y2="401.3" stroke="#000000" stroke-width="1"/>
<line x1="637.6" y1="408.9" x2="647.6" y2="408.9" stroke="#000000" stroke-width="1"/>
<line x1="662.3" y1="385.8" x2="662.3" y2="389.5" stroke="#000000" stroke-width="1"/>
<line x1="658.8" y1="385.8" x2="665.8" y2="385.8" stroke="#000000" stroke-width="1"/>
<line x1="658.8" y1="389.5" x2="665.8" y2="389.5" stroke="#000000" stroke-width="1"/>
<circle cx="543.2" cy="440.4" r="2.2" fill="#000000"/>
<circle cx="545.32" cy="440.4" r="2.2" fill="#000000"/>
<circle cx="547.44" cy="440.4" r="2.2" fill="#000000"/>
<circle cx="549.56" cy="440.4" r="2.2" fill="#000000"/>
<circle cx="551.68" cy="440.4" r="2.2" fill="#000000"/>
<circle cx="553.8" cy="440.4" r="2.2" fill="#000000"/>
<circle cx="617.9" cy="440.4" r="2.2" fill="#000000"/>
<circle cx="619.98" cy="440.4" r="2.2" fill="#000000"/>
<circle cx="622.06" cy="440.4" r="2.2" fill="#000000"/>
<circle cx="624.14" cy="440.4" r="2.2" fill="#000000"/>
<circle cx="626.22" cy="440.4" r="2.2" fill="#000000"/>
<circle cx="628.3" cy="440.4" r="2.2" fill="#000000"/>
<circle cx="562.2" cy="381.8" r="2.2" fill="#000000"/>
<circle cx="568.1" cy="379.9" r="2.2" fill="#000000"/>
<circle cx="574.2" cy="378.8" r="2.2" fill="#000000"/>
<circle cx="574.2" cy="383.7" r="2.2" fill="#000000"/>
<circle cx="568.1" cy="388.5" r="2.2" fill="#000000"/>
<circle cx="568.1" cy="403.1" r="2.2" fill="#000000"/>
<circle cx="582" cy="365" r="2.2" fill="#000000"/>
<circle cx="588" cy="368.9" r="2.2" fill="#000000"/>
<circle cx="594" cy="366.7" r="2.2" fill="#000000"/>
<circle cx="582" cy="378.6" r="2.2" fill="#000000"/>
<circle cx="588" cy="378.6" r="2.2" fill="#000000"/>
<circle cx="594" cy="378.6" r="2.2" fill="#000000"/>
<circle cx="642.6" cy="395.1" r="2.2" fill="#000000"/>
<circle cx="636.4" cy="400.9" r="2.2" fill="#000000"/>
<circle cx="648.6" cy="402.4" r="2.2" fill="#000000"/>
<circle cx="642.6" cy="408.6" r="2.2" fill="#000000"/>
<circle cx="636.4" cy="423.5" r="2.2" fill="#000000"/>
<circle cx="648.6" cy="421.4" r="2.2" fill="#000000"/>
<circle cx="656.1" cy="386.3" r="2.2" fill="#000000"/>
<circle cx="660.3" cy="384.9" r="2.2" fill="#000000"/>
<circle cx="668.3" cy="384.1" r="2.2" fill="#000000"/>
<circle cx="664.3" cy="388.9" r="2.2" fill="#000000"/>
<circle cx="668.3" cy="388.9" r="2.2" fill="#000000"/>
<circle cx="656.1" cy="391.6" r="2.2" fill="#000000"/>
<line x1="532.1" y1="309.8" x2="532.1" y2="457.7" stroke="#231f20" stroke-width="1.25"/>
<line x1="526.5" y1="457.1" x2="532.1" y2="457.1" stroke="#231f20" stroke-width="1.25"/>
<text x="525.7" y="460.7" font-size="10.2" text-anchor="end" fill="#161616">0</text>
<line x1="526.5" y1="432.65" x2="532.1" y2="432.65" stroke="#231f20" stroke-width="1.25"/>
<text x="525.7" y="436.25" font-size="10.2" text-anchor="end" fill="#161616">1</text>
<line x1="526.5" y1="408.2" x2="532.1" y2="408.2" stroke="#231f20" stroke-width="1.25"/>
<text x="525.7" y="411.8" font-size="10.2" text-anchor="end" fill="#161616">2</text>
<line x1="526.5" y1="383.75" x2="532.1" y2="383.75" stroke="#231f20" stroke-width="1.25"/>
<text x="525.7" y="387.35" font-size="10.2" text-anchor="end" fill="#161616">3</text>
<line x1="526.5" y1="359.3" x2="532.1" y2="359.3" stroke="#231f20" stroke-width="1.25"/>
<text x="525.7" y="362.9" font-size="10.2" text-anchor="end" fill="#161616">4</text>
<line x1="526.5" y1="334.85" x2="532.1" y2="334.85" stroke="#231f20" stroke-width="1.25"/>
<text x="525.7" y="338.45" font-size="10.2" text-anchor="end" fill="#161616">5</text>
<line x1="526.5" y1="310.4" x2="532.1" y2="310.4" stroke="#231f20" stroke-width="1.25"/>
<text x="525.7" y="314" font-size="10.2" text-anchor="end" fill="#161616">6</text>
<line x1="526.5" y1="457.1" x2="679.4" y2="457.1" stroke="#231f20" stroke-width="1.25"/>
<line x1="548.1" y1="457.1" x2="548.1" y2="463.1" stroke="#231f20" stroke-width="1.25"/>
<line x1="568" y1="457.1" x2="568" y2="463.1" stroke="#231f20" stroke-width="1.25"/>
<line x1="587.9" y1="457.1" x2="587.9" y2="463.1" stroke="#231f20" stroke-width="1.25"/>
<line x1="622.3" y1="457.1" x2="622.3" y2="463.1" stroke="#231f20" stroke-width="1.25"/>
<line x1="642.5" y1="457.1" x2="642.5" y2="463.1" stroke="#231f20" stroke-width="1.25"/>
<line x1="662.4" y1="457.1" x2="662.4" y2="463.1" stroke="#231f20" stroke-width="1.25"/>
<text x="540.2" y="472.5" font-size="9.5" fill="#161616">LNP1µg</text>
<text x="579.3" y="472.5" font-size="9.5" fill="#161616">5µg</text>
<text x="617.3" y="472.5" font-size="9.5" fill="#161616">LNP1µg</text>
<text x="654.5" y="472.5" font-size="9.5" fill="#161616">5µg</text>
<text x="501.6" y="382.9" font-size="11" text-anchor="middle" fill="#161616" transform="rotate(-90 501.6 382.9)">Pseudovirus Neutralization</text>
<text x="512.9" y="385.1" font-size="11" text-anchor="middle" fill="#161616" transform="rotate(-90 512.9 385.1)">titers (IC<tspan font-size="6.05" dy="2.75">50</tspan><tspan dy="-2.75">) Log10</tspan></text>
<text x="1" y="492.2" font-size="10" fill="#161616">F</text>
<rect x="99.9" y="486.1" width="50.2" height="16.4" fill="#cdcecd"/>
<text x="108.7" y="498.7" font-size="10.5" fill="#161616">Ifnar1<tspan font-size="5.78" dy="-3.99">-/-</tspan></text>
<rect x="55.5" y="510.6" width="8.8" height="6" fill="#9c7bb8"/>
<text x="66.7" y="517.1" font-size="9.55" fill="#161616">mRNA-GPC</text>
<rect x="141.5" y="510.6" width="8.3" height="6" fill="#b2b3b5"/>
<text x="151.5" y="517.1" font-size="9.55" fill="#161616">LNP</text>
<rect x="55.5" y="521.6" width="8.8" height="6" fill="#8ea8cb"/>
<text x="66.7" y="528.1" font-size="9.55" fill="#161616">mRNA-GPC+mRNA-NP</text>
<line x1="58.8" y1="544.1" x2="113.1" y2="544.1" stroke="#231f20" stroke-width="1.25"/>
<text x="67.1" y="542.5" font-size="9.3" fill="#161616">P=0.0002</text>
<line x1="131.5" y1="543.7" x2="184.7" y2="543.7" stroke="#231f20" stroke-width="1.25"/>
<text x="138" y="542.1" font-size="9.3" fill="#161616">P=0.0019</text>
<line x1="131" y1="560.5" x2="168.2" y2="560.5" stroke="#231f20" stroke-width="1.25"/>
<text x="130.6" y="558.9" font-size="9.3" fill="#161616">P=0.0339</text>
<rect x="59.5" y="639.99" width="17.1" height="17.12" fill="#b2b3b5"/>
<rect x="79.4" y="604.8" width="16.8" height="52.3" fill="#9c7bb8"/>
<rect x="99.2" y="562" width="16.9" height="95.1" fill="#9c7bb8"/>
<rect x="134.3" y="639.99" width="16.3" height="17.12" fill="#b2b3b5"/>
<rect x="154.1" y="576.7" width="16.4" height="80.4" fill="#8ea8cb"/>
<rect x="174" y="573.2" width="16.3" height="83.9" fill="#8ea8cb"/>
<line x1="87.6" y1="599.8" x2="87.6" y2="612.2" stroke="#000000" stroke-width="1"/>
<line x1="83.85" y1="599.8" x2="91.35" y2="599.8" stroke="#000000" stroke-width="1"/>
<line x1="83.85" y1="612.2" x2="91.35" y2="612.2" stroke="#000000" stroke-width="1"/>
<line x1="107.6" y1="559" x2="107.6" y2="565" stroke="#000000" stroke-width="1"/>
<line x1="104.1" y1="559" x2="111.1" y2="559" stroke="#000000" stroke-width="1"/>
<line x1="104.1" y1="565" x2="111.1" y2="565" stroke="#000000" stroke-width="1"/>
<line x1="162.3" y1="572.5" x2="162.3" y2="584.2" stroke="#000000" stroke-width="1"/>
<line x1="158.55" y1="572.5" x2="166.05" y2="572.5" stroke="#000000" stroke-width="1"/>
<line x1="158.55" y1="584.2" x2="166.05" y2="584.2" stroke="#000000" stroke-width="1"/>
<line x1="182.2" y1="569.5" x2="182.2" y2="578" stroke="#000000" stroke-width="1"/>
<line x1="178.45" y1="569.5" x2="185.95" y2="569.5" stroke="#000000" stroke-width="1"/>
<line x1="178.45" y1="578" x2="185.95" y2="578" stroke="#000000" stroke-width="1"/>
<circle cx="62.4" cy="640.2" r="2.2" fill="#000000"/>
<circle cx="64.68" cy="640.2" r="2.2" fill="#000000"/>
<circle cx="66.96" cy="640.2" r="2.2" fill="#000000"/>
<circle cx="69.24" cy="640.2" r="2.2" fill="#000000"/>
<circle cx="71.52" cy="640.2" r="2.2" fill="#000000"/>
<circle cx="73.8" cy="640.2" r="2.2" fill="#000000"/>
<circle cx="137.2" cy="640.2" r="2.2" fill="#000000"/>
<circle cx="139.32" cy="640.2" r="2.2" fill="#000000"/>
<circle cx="141.44" cy="640.2" r="2.2" fill="#000000"/>
<circle cx="143.56" cy="640.2" r="2.2" fill="#000000"/>
<circle cx="145.68" cy="640.2" r="2.2" fill="#000000"/>
<circle cx="147.8" cy="640.2" r="2.2" fill="#000000"/>
<circle cx="87.6" cy="592.4" r="2.2" fill="#000000"/>
<circle cx="87.6" cy="599.4" r="2.2" fill="#000000"/>
<circle cx="87.6" cy="611" r="2.2" fill="#000000"/>
<circle cx="81.7" cy="621.6" r="2.2" fill="#000000"/>
<circle cx="87.6" cy="620.4" r="2.2" fill="#000000"/>
<circle cx="93.4" cy="621.6" r="2.2" fill="#000000"/>
<circle cx="107.4" cy="556.9" r="2.2" fill="#000000"/>
<circle cx="101.6" cy="563.2" r="2.2" fill="#000000"/>
<circle cx="113.3" cy="559.2" r="2.2" fill="#000000"/>
<circle cx="101.6" cy="569" r="2.2" fill="#000000"/>
<circle cx="107.4" cy="566" r="2.2" fill="#000000"/>
<circle cx="113.3" cy="565.5" r="2.2" fill="#000000"/>
<circle cx="161.8" cy="563.9" r="2.2" fill="#000000"/>
<circle cx="161.8" cy="571.4" r="2.2" fill="#000000"/>
<circle cx="155.3" cy="588.2" r="2.2" fill="#000000"/>
<circle cx="168.1" cy="589.6" r="2.2" fill="#000000"/>
<circle cx="161.8" cy="592" r="2.2" fill="#000000"/>
<circle cx="161.8" cy="598.9" r="2.2" fill="#000000"/>
<circle cx="181.7" cy="562" r="2.2" fill="#000000"/>
<circle cx="175.2" cy="574.9" r="2.2" fill="#000000"/>
<circle cx="188" cy="574.9" r="2.2" fill="#000000"/>
<circle cx="181.7" cy="578.4" r="2.2" fill="#000000"/>
<circle cx="175.2" cy="583.5" r="2.2" fill="#000000"/>
<circle cx="188" cy="580.7" r="2.2" fill="#000000"/>
<line x1="51.6" y1="509.8" x2="51.6" y2="657.7" stroke="#231f20" stroke-width="1.25"/>
<line x1="46" y1="657.1" x2="51.6" y2="657.1" stroke="#231f20" stroke-width="1.25"/>
<text x="45.2" y="660.7" font-size="10.2" text-anchor="end" fill="#161616">0</text>
<line x1="46" y1="632.65" x2="51.6" y2="632.65" stroke="#231f20" stroke-width="1.25"/>
<text x="45.2" y="636.25" font-size="10.2" text-anchor="end" fill="#161616">1</text>
<line x1="46" y1="608.2" x2="51.6" y2="608.2" stroke="#231f20" stroke-width="1.25"/>
<text x="45.2" y="611.8" font-size="10.2" text-anchor="end" fill="#161616">2</text>
<line x1="46" y1="583.75" x2="51.6" y2="583.75" stroke="#231f20" stroke-width="1.25"/>
<text x="45.2" y="587.35" font-size="10.2" text-anchor="end" fill="#161616">3</text>
<line x1="46" y1="559.3" x2="51.6" y2="559.3" stroke="#231f20" stroke-width="1.25"/>
<text x="45.2" y="562.9" font-size="10.2" text-anchor="end" fill="#161616">4</text>
<line x1="46" y1="534.85" x2="51.6" y2="534.85" stroke="#231f20" stroke-width="1.25"/>
<text x="45.2" y="538.45" font-size="10.2" text-anchor="end" fill="#161616">5</text>
<line x1="46" y1="510.4" x2="51.6" y2="510.4" stroke="#231f20" stroke-width="1.25"/>
<text x="45.2" y="514" font-size="10.2" text-anchor="end" fill="#161616">6</text>
<line x1="46" y1="657.1" x2="199" y2="657.1" stroke="#231f20" stroke-width="1.25"/>
<line x1="67.7" y1="657.1" x2="67.7" y2="663.1" stroke="#231f20" stroke-width="1.25"/>
<line x1="87.6" y1="657.1" x2="87.6" y2="663.1" stroke="#231f20" stroke-width="1.25"/>
<line x1="107.4" y1="657.1" x2="107.4" y2="663.1" stroke="#231f20" stroke-width="1.25"/>
<line x1="142.5" y1="657.1" x2="142.5" y2="663.1" stroke="#231f20" stroke-width="1.25"/>
<line x1="162.3" y1="657.1" x2="162.3" y2="663.1" stroke="#231f20" stroke-width="1.25"/>
<line x1="182.2" y1="657.1" x2="182.2" y2="663.1" stroke="#231f20" stroke-width="1.25"/>
<text x="58.3" y="672.5" font-size="9.5" fill="#161616">LNP1µg</text>
<text x="97.1" y="672.5" font-size="9.5" fill="#161616">5µg</text>
<text x="135.4" y="672.5" font-size="9.5" fill="#161616">LNP1µg</text>
<text x="174.4" y="672.5" font-size="9.5" fill="#161616">5µg</text>
<text x="20.4" y="581.9" font-size="11" text-anchor="middle" fill="#161616" transform="rotate(-90 20.4 581.9)">Pseudovirus Neutralization</text>
<text x="31.9" y="583.8" font-size="11" text-anchor="middle" fill="#161616" transform="rotate(-90 31.9 583.8)">titers (IC<tspan font-size="6.05" dy="2.75">50</tspan><tspan dy="-2.75">) Log10</tspan></text>
<text x="233.8" y="492.4" font-size="10" fill="#161616">G</text>
<rect x="336.9" y="486.1" width="49.3" height="16.4" fill="#cdcecd"/>
<text x="361.55" y="498.9" font-size="10.8" text-anchor="middle" fill="#161616">C57BL/6</text>
<rect x="292.4" y="510.6" width="8.8" height="6" fill="#9c7bb8"/>
<text x="303.6" y="517.1" font-size="9.55" fill="#161616">mRNA-GPC</text>
<rect x="378.7" y="510.6" width="8.3" height="6" fill="#b2b3b5"/>
<text x="388.7" y="517.1" font-size="9.55" fill="#161616">LNP</text>
<rect x="292.4" y="521.6" width="8.8" height="6" fill="#8ea8cb"/>
<text x="303.6" y="528.1" font-size="9.55" fill="#161616">mRNA-GPC+mRNA-NP</text>
<line x1="296" y1="550.3" x2="349.6" y2="550.3" stroke="#231f20" stroke-width="1.25"/>
<text x="303.6" y="548.7" font-size="9.3" fill="#161616">P=0.0003</text>
<line x1="367.8" y1="560.5" x2="421.9" y2="560.5" stroke="#231f20" stroke-width="1.25"/>
<text x="375.2" y="558.9" font-size="9.3" fill="#161616">P=0.0007</text>
<line x1="367.8" y1="575.2" x2="404.3" y2="575.2" stroke="#231f20" stroke-width="1.25"/>
<text x="366.5" y="573.6" font-size="9.3" fill="#161616">P=0.0111</text>
<rect x="296.2" y="631.55" width="16.5" height="25.55" fill="#b2b3b5"/>
<rect x="316" y="597.7" width="16.6" height="59.4" fill="#9c7bb8"/>
<rect x="336.1" y="571.8" width="16.4" height="85.3" fill="#9c7bb8"/>
<rect x="370.9" y="631.55" width="15.9" height="25.55" fill="#b2b3b5"/>
<rect x="390.3" y="591.9" width="16.8" height="65.2" fill="#8ea8cb"/>
<rect x="410.2" y="586.5" width="16.3" height="70.6" fill="#8ea8cb"/>
<line x1="324.3" y1="593.5" x2="324.3" y2="601" stroke="#000000" stroke-width="1"/>
<line x1="320.3" y1="593.5" x2="328.3" y2="593.5" stroke="#000000" stroke-width="1"/>
<line x1="320.3" y1="601" x2="328.3" y2="601" stroke="#000000" stroke-width="1"/>
<line x1="344.3" y1="567.1" x2="344.3" y2="577.7" stroke="#000000" stroke-width="1"/>
<line x1="340.3" y1="567.1" x2="348.3" y2="567.1" stroke="#000000" stroke-width="1"/>
<line x1="340.3" y1="577.7" x2="348.3" y2="577.7" stroke="#000000" stroke-width="1"/>
<line x1="398.5" y1="588" x2="398.5" y2="597" stroke="#000000" stroke-width="1"/>
<line x1="394.75" y1="588" x2="402.25" y2="588" stroke="#000000" stroke-width="1"/>
<line x1="394.75" y1="597" x2="402.25" y2="597" stroke="#000000" stroke-width="1"/>
<line x1="418.3" y1="584" x2="418.3" y2="589.5" stroke="#000000" stroke-width="1"/>
<line x1="414.55" y1="584" x2="422.05" y2="584" stroke="#000000" stroke-width="1"/>
<line x1="414.55" y1="589.5" x2="422.05" y2="589.5" stroke="#000000" stroke-width="1"/>
<circle cx="299.2" cy="631.6" r="2.2" fill="#000000"/>
<circle cx="301.32" cy="631.6" r="2.2" fill="#000000"/>
<circle cx="303.44" cy="631.6" r="2.2" fill="#000000"/>
<circle cx="305.56" cy="631.6" r="2.2" fill="#000000"/>
<circle cx="307.68" cy="631.6" r="2.2" fill="#000000"/>
<circle cx="309.8" cy="631.6" r="2.2" fill="#000000"/>
<circle cx="373.8" cy="631.6" r="2.2" fill="#000000"/>
<circle cx="375.84" cy="631.6" r="2.2" fill="#000000"/>
<circle cx="377.88" cy="631.6" r="2.2" fill="#000000"/>
<circle cx="379.92" cy="631.6" r="2.2" fill="#000000"/>
<circle cx="381.96" cy="631.6" r="2.2" fill="#000000"/>
<circle cx="384" cy="631.6" r="2.2" fill="#000000"/>
<circle cx="318.4" cy="589.6" r="2.2" fill="#000000"/>
<circle cx="330.3" cy="588.9" r="2.2" fill="#000000"/>
<circle cx="318.4" cy="597.5" r="2.2" fill="#000000"/>
<circle cx="330.3" cy="596.6" r="2.2" fill="#000000"/>
<circle cx="324.2" cy="611.5" r="2.2" fill="#000000"/>
<circle cx="324.2" cy="621.1" r="2.2" fill="#000000"/>
<circle cx="344.3" cy="558.5" r="2.2" fill="#000000"/>
<circle cx="338.2" cy="567.8" r="2.2" fill="#000000"/>
<circle cx="350.6" cy="570.9" r="2.2" fill="#000000"/>
<circle cx="344.3" cy="576.5" r="2.2" fill="#000000"/>
<circle cx="344.3" cy="585.8" r="2.2" fill="#000000"/>
<circle cx="344.3" cy="594.7" r="2.2" fill="#000000"/>
<circle cx="398.5" cy="580.7" r="2.2" fill="#000000"/>
<circle cx="392.6" cy="586.5" r="2.2" fill="#000000"/>
<circle cx="398.5" cy="590" r="2.2" fill="#000000"/>
<circle cx="398.5" cy="597.5" r="2.2" fill="#000000"/>
<circle cx="405" cy="597" r="2.2" fill="#000000"/>
<circle cx="398.5" cy="624.6" r="2.2" fill="#000000"/>
<circle cx="414.8" cy="580.2" r="2.2" fill="#000000"/>
<circle cx="421.4" cy="580.2" r="2.2" fill="#000000"/>
<circle cx="411.8" cy="585.8" r="2.2" fill="#000000"/>
<circle cx="418.3" cy="587" r="2.2" fill="#000000"/>
<circle cx="424.6" cy="588.9" r="2.2" fill="#000000"/>
<circle cx="418.3" cy="598.9" r="2.2" fill="#000000"/>
<line x1="288.2" y1="510.5" x2="288.2" y2="657.7" stroke="#231f20" stroke-width="1.25"/>
<line x1="282.6" y1="657.1" x2="288.2" y2="657.1" stroke="#231f20" stroke-width="1.25"/>
<text x="281.8" y="660.7" font-size="10.2" text-anchor="end" fill="#161616">0</text>
<line x1="282.6" y1="620.6" x2="288.2" y2="620.6" stroke="#231f20" stroke-width="1.25"/>
<text x="281.8" y="624.2" font-size="10.2" text-anchor="end" fill="#161616">1</text>
<line x1="282.6" y1="584.1" x2="288.2" y2="584.1" stroke="#231f20" stroke-width="1.25"/>
<text x="281.8" y="587.7" font-size="10.2" text-anchor="end" fill="#161616">2</text>
<line x1="282.6" y1="547.6" x2="288.2" y2="547.6" stroke="#231f20" stroke-width="1.25"/>
<text x="281.8" y="551.2" font-size="10.2" text-anchor="end" fill="#161616">3</text>
<line x1="282.6" y1="511.1" x2="288.2" y2="511.1" stroke="#231f20" stroke-width="1.25"/>
<text x="281.8" y="514.7" font-size="10.2" text-anchor="end" fill="#161616">4</text>
<line x1="282.6" y1="657.1" x2="436" y2="657.1" stroke="#231f20" stroke-width="1.25"/>
<line x1="304.6" y1="657.1" x2="304.6" y2="663.1" stroke="#231f20" stroke-width="1.25"/>
<line x1="324.3" y1="657.1" x2="324.3" y2="663.1" stroke="#231f20" stroke-width="1.25"/>
<line x1="344" y1="657.1" x2="344" y2="663.1" stroke="#231f20" stroke-width="1.25"/>
<line x1="378.8" y1="657.1" x2="378.8" y2="663.1" stroke="#231f20" stroke-width="1.25"/>
<line x1="398.5" y1="657.1" x2="398.5" y2="663.1" stroke="#231f20" stroke-width="1.25"/>
<line x1="418.2" y1="657.1" x2="418.2" y2="663.1" stroke="#231f20" stroke-width="1.25"/>
<text x="296" y="672.5" font-size="9.5" fill="#161616">LNP1µg</text>
<text x="334.9" y="672.5" font-size="9.5" fill="#161616">5µg</text>
<text x="373.7" y="672.5" font-size="9.5" fill="#161616">LNP1µg</text>
<text x="412.7" y="672.5" font-size="9.5" fill="#161616">5µg</text>
<text x="258.3" y="584" font-size="10.2" text-anchor="middle" fill="#161616" transform="rotate(-90 258.3 584)">Live virus neutralization titers</text>
<text x="268.6" y="585.3" font-size="10.2" text-anchor="middle" fill="#161616" transform="rotate(-90 268.6 585.3)">against YL16070 (IC<tspan font-size="5.61" dy="2.55">50</tspan><tspan dy="-2.55">) Log 10</tspan></text>
<text x="484.6" y="492.2" font-size="10" fill="#161616">H</text>
<rect x="580.4" y="486.1" width="49.9" height="16.4" fill="#cdcecd"/>
<text x="589.2" y="498.7" font-size="10.5" fill="#161616">Ifnar1<tspan font-size="5.78" dy="-3.99">-/-</tspan></text>
<rect x="538.3" y="510.6" width="8.8" height="6" fill="#9c7bb8"/>
<text x="549.5" y="517.1" font-size="9.55" fill="#161616">mRNA-GPC</text>
<rect x="623.7" y="510.6" width="8.3" height="6" fill="#b2b3b5"/>
<text x="633.7" y="517.1" font-size="9.55" fill="#161616">LNP</text>
<rect x="538.3" y="521.6" width="8.8" height="6" fill="#8ea8cb"/>
<text x="549.5" y="528.1" font-size="9.55" fill="#161616">mRNA-GPC+mRNA-NP</text>
<line x1="538.3" y1="544.1" x2="592.4" y2="544.1" stroke="#231f20" stroke-width="1.25"/>
<text x="544.9" y="542.5" font-size="9.3" fill="#161616">P=0.0005</text>
<line x1="612.1" y1="544.1" x2="665.8" y2="544.1" stroke="#231f20" stroke-width="1.25"/>
<text x="620.2" y="542.5" font-size="9.3" fill="#161616">P=0.0003</text>
<rect x="540.3" y="631.28" width="16.4" height="25.51" fill="#b2b3b5"/>
<rect x="560.4" y="583" width="16.2" height="73.8" fill="#9c7bb8"/>
<rect x="580.3" y="556.2" width="16.1" height="100.6" fill="#9c7bb8"/>
<rect x="614.8" y="631.28" width="15.6" height="25.51" fill="#b2b3b5"/>
<rect x="634.6" y="583" width="16.4" height="73.8" fill="#8ea8cb"/>
<rect x="654.5" y="558.7" width="16.4" height="98.1" fill="#8ea8cb"/>
<line x1="568.4" y1="576.8" x2="568.4" y2="591.7" stroke="#000000" stroke-width="1"/>
<line x1="564.65" y1="576.8" x2="572.15" y2="576.8" stroke="#000000" stroke-width="1"/>
<line x1="564.65" y1="591.7" x2="572.15" y2="591.7" stroke="#000000" stroke-width="1"/>
<line x1="588.2" y1="553" x2="588.2" y2="566.9" stroke="#000000" stroke-width="1"/>
<line x1="584.45" y1="553" x2="591.95" y2="553" stroke="#000000" stroke-width="1"/>
<line x1="584.45" y1="566.9" x2="591.95" y2="566.9" stroke="#000000" stroke-width="1"/>
<line x1="642.8" y1="580" x2="642.8" y2="590" stroke="#000000" stroke-width="1"/>
<line x1="639.05" y1="580" x2="646.55" y2="580" stroke="#000000" stroke-width="1"/>
<line x1="639.05" y1="590" x2="646.55" y2="590" stroke="#000000" stroke-width="1"/>
<line x1="662.7" y1="556" x2="662.7" y2="563" stroke="#000000" stroke-width="1"/>
<line x1="658.95" y1="556" x2="666.45" y2="556" stroke="#000000" stroke-width="1"/>
<line x1="658.95" y1="563" x2="666.45" y2="563" stroke="#000000" stroke-width="1"/>
<circle cx="543.2" cy="631.3" r="2.2" fill="#000000"/>
<circle cx="545.32" cy="631.3" r="2.2" fill="#000000"/>
<circle cx="547.44" cy="631.3" r="2.2" fill="#000000"/>
<circle cx="549.56" cy="631.3" r="2.2" fill="#000000"/>
<circle cx="551.68" cy="631.3" r="2.2" fill="#000000"/>
<circle cx="553.8" cy="631.3" r="2.2" fill="#000000"/>
<circle cx="617.7" cy="631.3" r="2.2" fill="#000000"/>
<circle cx="619.68" cy="631.3" r="2.2" fill="#000000"/>
<circle cx="621.66" cy="631.3" r="2.2" fill="#000000"/>
<circle cx="623.64" cy="631.3" r="2.2" fill="#000000"/>
<circle cx="625.62" cy="631.3" r="2.2" fill="#000000"/>
<circle cx="627.6" cy="631.3" r="2.2" fill="#000000"/>
<circle cx="567.9" cy="564.4" r="2.2" fill="#000000"/>
<circle cx="562.2" cy="587.3" r="2.2" fill="#000000"/>
<circle cx="574.6" cy="587.3" r="2.2" fill="#000000"/>
<circle cx="568" cy="590.5" r="2.2" fill="#000000"/>
<circle cx="564.6" cy="597.2" r="2.2" fill="#000000"/>
<circle cx="571.6" cy="596.7" r="2.2" fill="#000000"/>
<circle cx="588" cy="537.1" r="2.2" fill="#000000"/>
<circle cx="588" cy="550.3" r="2.2" fill="#000000"/>
<circle cx="587.7" cy="571.1" r="2.2" fill="#000000"/>
<circle cx="581.5" cy="577.3" r="2.2" fill="#000000"/>
<circle cx="587.7" cy="577.3" r="2.2" fill="#000000"/>
<circle cx="593.9" cy="577.3" r="2.2" fill="#000000"/>
<circle cx="642.8" cy="572.9" r="2.2" fill="#000000"/>
<circle cx="636.6" cy="579.8" r="2.2" fill="#000000"/>
<circle cx="649" cy="580.3" r="2.2" fill="#000000"/>
<circle cx="636.6" cy="587.3" r="2.2" fill="#000000"/>
<circle cx="649" cy="587.3" r="2.2" fill="#000000"/>
<circle cx="642.8" cy="599.2" r="2.2" fill="#000000"/>
<circle cx="662.3" cy="548.5" r="2.2" fill="#000000"/>
<circle cx="656" cy="557.5" r="2.2" fill="#000000"/>
<circle cx="668.9" cy="557.5" r="2.2" fill="#000000"/>
<circle cx="662.5" cy="557.5" r="2.2" fill="#000000"/>
<circle cx="659" cy="573.6" r="2.2" fill="#000000"/>
<circle cx="666.4" cy="571.9" r="2.2" fill="#000000"/>
<line x1="531.6" y1="510.4" x2="531.6" y2="657.4" stroke="#231f20" stroke-width="1.25"/>
<line x1="526" y1="656.8" x2="531.6" y2="656.8" stroke="#231f20" stroke-width="1.25"/>
<text x="525.2" y="660.4" font-size="10.2" text-anchor="end" fill="#161616">0</text>
<line x1="526" y1="620.35" x2="531.6" y2="620.35" stroke="#231f20" stroke-width="1.25"/>
<text x="525.2" y="623.95" font-size="10.2" text-anchor="end" fill="#161616">1</text>
<line x1="526" y1="583.9" x2="531.6" y2="583.9" stroke="#231f20" stroke-width="1.25"/>
<text x="525.2" y="587.5" font-size="10.2" text-anchor="end" fill="#161616">2</text>
<line x1="526" y1="547.45" x2="531.6" y2="547.45" stroke="#231f20" stroke-width="1.25"/>
<text x="525.2" y="551.05" font-size="10.2" text-anchor="end" fill="#161616">3</text>
<line x1="526" y1="511" x2="531.6" y2="511" stroke="#231f20" stroke-width="1.25"/>
<text x="525.2" y="514.6" font-size="10.2" text-anchor="end" fill="#161616">4</text>
<line x1="526" y1="656.8" x2="680" y2="656.8" stroke="#231f20" stroke-width="1.25"/>
<line x1="548.5" y1="656.8" x2="548.5" y2="662.8" stroke="#231f20" stroke-width="1.25"/>
<line x1="568.4" y1="656.8" x2="568.4" y2="662.8" stroke="#231f20" stroke-width="1.25"/>
<line x1="588.2" y1="656.8" x2="588.2" y2="662.8" stroke="#231f20" stroke-width="1.25"/>
<line x1="623" y1="656.8" x2="623" y2="662.8" stroke="#231f20" stroke-width="1.25"/>
<line x1="642.8" y1="656.8" x2="642.8" y2="662.8" stroke="#231f20" stroke-width="1.25"/>
<line x1="662.7" y1="656.8" x2="662.7" y2="662.8" stroke="#231f20" stroke-width="1.25"/>
<text x="540.2" y="672.2" font-size="9.5" fill="#161616">LNP1µg</text>
<text x="579.3" y="672.2" font-size="9.5" fill="#161616">5µg</text>
<text x="617.8" y="672.2" font-size="9.5" fill="#161616">LNP1µg</text>
<text x="656.7" y="672.2" font-size="9.5" fill="#161616">5µg</text>
<text x="501.7" y="584" font-size="10.2" text-anchor="middle" fill="#161616" transform="rotate(-90 501.7 584)">Live virus neutralization titers</text>
<text x="512" y="585.3" font-size="10.2" text-anchor="middle" fill="#161616" transform="rotate(-90 512 585.3)">against YL16070 (IC<tspan font-size="5.61" dy="2.55">50</tspan><tspan dy="-2.55">) Log 10</tspan></text>
<text x="0.6" y="691.6" font-size="10" fill="#161616">I</text>
<line x1="60.4" y1="690.9" x2="60.4" y2="861.6" stroke="#231f20" stroke-width="1.25"/>
<line x1="53.8" y1="861" x2="60.4" y2="861" stroke="#231f20" stroke-width="1.25"/>
<text x="52" y="865.8" font-size="10.5" text-anchor="end" fill="#161616">0</text>
<line x1="53.8" y1="832.75" x2="60.4" y2="832.75" stroke="#231f20" stroke-width="1.25"/>
<text x="52" y="837.55" font-size="10.5" text-anchor="end" fill="#161616">500</text>
<line x1="53.8" y1="804.5" x2="60.4" y2="804.5" stroke="#231f20" stroke-width="1.25"/>
<text x="52" y="809.3" font-size="10.5" text-anchor="end" fill="#161616">1000</text>
<line x1="53.8" y1="776.25" x2="60.4" y2="776.25" stroke="#231f20" stroke-width="1.25"/>
<text x="52" y="781.05" font-size="10.5" text-anchor="end" fill="#161616">1500</text>
<line x1="53.8" y1="748" x2="60.4" y2="748" stroke="#231f20" stroke-width="1.25"/>
<text x="52" y="752.8" font-size="10.5" text-anchor="end" fill="#161616">2000</text>
<line x1="53.8" y1="719.75" x2="60.4" y2="719.75" stroke="#231f20" stroke-width="1.25"/>
<text x="52" y="724.55" font-size="10.5" text-anchor="end" fill="#161616">2500</text>
<line x1="53.8" y1="691.5" x2="60.4" y2="691.5" stroke="#231f20" stroke-width="1.25"/>
<text x="52" y="696.3" font-size="10.5" text-anchor="end" fill="#161616">3000</text>
<rect x="66.6" y="686.8" width="9.2" height="6" fill="#7b7c7c"/>
<text x="82" y="692.9" font-size="11" fill="#161616">LNP</text>
<rect x="66.6" y="696.9" width="9.2" height="6" fill="#8ea8cb"/>
<text x="82" y="703" font-size="11" fill="#161616">(1 µg mRNA-NP)×2</text>
<rect x="66.6" y="708.8" width="9.2" height="6" fill="#9c7bb8"/>
<text x="82" y="714.9" font-size="11" fill="#161616">(5 µg mRNA-NP)×2</text>
<rect x="105.4" y="837" width="22.5" height="24" fill="#8ea8cb"/>
<rect x="139.5" y="785.9" width="22.5" height="75.1" fill="#9c7bb8"/>
<line x1="54" y1="861" x2="173.9" y2="861" stroke="#231f20" stroke-width="1.25"/>
<circle cx="74" cy="860" r="2.6" fill="#858585"/>
<circle cx="77.46" cy="860" r="2.6" fill="#858585"/>
<circle cx="80.92" cy="860" r="2.6" fill="#858585"/>
<circle cx="84.38" cy="860" r="2.6" fill="#858585"/>
<circle cx="87.84" cy="860" r="2.6" fill="#858585"/>
<circle cx="91.3" cy="860" r="2.6" fill="#858585"/>
<line x1="116.6" y1="831.3" x2="116.6" y2="841.9" stroke="#000000" stroke-width="1"/>
<line x1="111.1" y1="831.3" x2="122.1" y2="831.3" stroke="#000000" stroke-width="1"/>
<line x1="111.1" y1="841.9" x2="122.1" y2="841.9" stroke="#000000" stroke-width="1"/>
<line x1="150.5" y1="776.1" x2="150.5" y2="796.6" stroke="#000000" stroke-width="1"/>
<line x1="145.2" y1="776.1" x2="155.8" y2="776.1" stroke="#000000" stroke-width="1"/>
<line x1="145.2" y1="796.6" x2="155.8" y2="796.6" stroke="#000000" stroke-width="1"/>
<circle cx="116.6" cy="818" r="2.5" fill="#000000"/>
<circle cx="107.4" cy="833.8" r="2.5" fill="#000000"/>
<circle cx="116.6" cy="830.3" r="2.5" fill="#000000"/>
<circle cx="125.4" cy="835" r="2.5" fill="#000000"/>
<circle cx="111.9" cy="852.4" r="2.5" fill="#000000"/>
<circle cx="121.1" cy="851.1" r="2.5" fill="#000000"/>
<circle cx="150" cy="746" r="2.5" fill="#000000"/>
<circle cx="150" cy="766.9" r="2.5" fill="#000000"/>
<circle cx="145.3" cy="795.5" r="2.5" fill="#000000"/>
<circle cx="155.5" cy="793.5" r="2.5" fill="#000000"/>
<circle cx="150.4" cy="804.7" r="2.5" fill="#000000"/>
<circle cx="150.4" cy="810.9" r="2.5" fill="#000000"/>
<line x1="67.7" y1="729" x2="154.7" y2="729" stroke="#231f20" stroke-width="1.25"/>
<text x="88.7" y="727.4" font-size="9.2" fill="#161616">p&lt;0.0001</text>
<line x1="105.7" y1="741.9" x2="158.8" y2="741.9" stroke="#231f20" stroke-width="1.25"/>
<text x="113.2" y="740.3" font-size="9.2" fill="#161616">p=0.0002</text>
<text x="85.4" y="876.7" font-size="10.6" fill="#161616">NP peptides</text>
<text x="24.4" y="777.8" font-size="10.85" text-anchor="middle" fill="#161616" transform="rotate(-90 24.4 777.8)">ELISpot (SFU/10<tspan font-size="5.97" dy="-4.34">6</tspan><tspan dy="4.34"> splenocyte)</tspan></text>
<text x="196.8" y="692.1" font-size="10" fill="#161616">J</text>
<line x1="243.9" y1="691" x2="243.9" y2="861.6" stroke="#231f20" stroke-width="1.25"/>
<line x1="237.1" y1="861" x2="243.9" y2="861" stroke="#231f20" stroke-width="1.25"/>
<text x="235.6" y="865.8" font-size="10.5" text-anchor="end" fill="#161616">0</text>
<line x1="237.1" y1="818.65" x2="243.9" y2="818.65" stroke="#231f20" stroke-width="1.25"/>
<text x="235.6" y="823.45" font-size="10.5" text-anchor="end" fill="#161616">2000</text>
<line x1="237.1" y1="776.3" x2="243.9" y2="776.3" stroke="#231f20" stroke-width="1.25"/>
<text x="235.6" y="781.1" font-size="10.5" text-anchor="end" fill="#161616">4000</text>
<line x1="237.1" y1="733.95" x2="243.9" y2="733.95" stroke="#231f20" stroke-width="1.25"/>
<text x="235.6" y="738.75" font-size="10.5" text-anchor="end" fill="#161616">6000</text>
<line x1="237.1" y1="691.6" x2="243.9" y2="691.6" stroke="#231f20" stroke-width="1.25"/>
<text x="235.6" y="696.4" font-size="10.5" text-anchor="end" fill="#161616">8000</text>
<rect x="253.3" y="686.8" width="9.2" height="6" fill="#7b7c7c"/>
<text x="269" y="692.9" font-size="11" fill="#161616">LNP</text>
<rect x="253.3" y="696.9" width="9.2" height="6" fill="#8ea8cb"/>
<text x="269" y="703" font-size="11" fill="#161616">(1 µg mRNA-GPC)×2</text>
<rect x="253.3" y="708.8" width="9.2" height="6" fill="#9c7bb8"/>
<text x="269" y="714.9" font-size="11" fill="#161616">(5 µg mRNA-GPC)×2</text>
<rect x="289.3" y="789.4" width="22.4" height="71.6" fill="#8ea8cb"/>
<rect x="323" y="773.1" width="22.9" height="87.9" fill="#9c7bb8"/>
<line x1="237" y1="861" x2="357.7" y2="861" stroke="#231f20" stroke-width="1.25"/>
<path d="M258.5,858.05 L260.95,860.5 L258.5,862.95 L256.05,860.5 Z" fill="#8a8a8a" stroke="none" stroke-width="1"/>
<path d="M261.68,858.05 L264.13,860.5 L261.68,862.95 L259.23,860.5 Z" fill="#8a8a8a" stroke="none" stroke-width="1"/>
<path d="M264.86,858.05 L267.31,860.5 L264.86,862.95 L262.41,860.5 Z" fill="#8a8a8a" stroke="none" stroke-width="1"/>
<path d="M268.04,858.05 L270.49,860.5 L268.04,862.95 L265.59,860.5 Z" fill="#8a8a8a" stroke="none" stroke-width="1"/>
<path d="M271.22,858.05 L273.67,860.5 L271.22,862.95 L268.77,860.5 Z" fill="#8a8a8a" stroke="none" stroke-width="1"/>
<path d="M274.4,858.05 L276.85,860.5 L274.4,862.95 L271.95,860.5 Z" fill="#8a8a8a" stroke="none" stroke-width="1"/>
<line x1="300.5" y1="785.3" x2="300.5" y2="792.1" stroke="#000000" stroke-width="1"/>
<line x1="295.4" y1="785.3" x2="305.6" y2="785.3" stroke="#000000" stroke-width="1"/>
<line x1="295.4" y1="792.1" x2="305.6" y2="792.1" stroke="#000000" stroke-width="1"/>
<path d="M300.5,775.6 L303.1,778.2 L300.5,780.8 L297.9,778.2 Z" fill="#000000" stroke="none" stroke-width="1"/>
<path d="M291.3,784.8 L293.9,787.4 L291.3,790 L288.7,787.4 Z" fill="#000000" stroke="none" stroke-width="1"/>
<path d="M300.5,781.7 L303.1,784.3 L300.5,786.9 L297.9,784.3 Z" fill="#000000" stroke="none" stroke-width="1"/>
<path d="M300.5,788.9 L303.1,791.5 L300.5,794.1 L297.9,791.5 Z" fill="#000000" stroke="none" stroke-width="1"/>
<path d="M309.3,787.4 L311.9,790 L309.3,792.6 L306.7,790 Z" fill="#000000" stroke="none" stroke-width="1"/>
<path d="M300.5,799.1 L303.1,801.7 L300.5,804.3 L297.9,801.7 Z" fill="#000000" stroke="none" stroke-width="1"/>
<path d="M326,770.5 L328.5,773 L326,775.5 L323.5,773 Z" fill="#000000" stroke="none" stroke-width="1"/>
<path d="M329.6,770.5 L332.1,773 L329.6,775.5 L327.1,773 Z" fill="#000000" stroke="none" stroke-width="1"/>
<path d="M333.2,770.5 L335.7,773 L333.2,775.5 L330.7,773 Z" fill="#000000" stroke="none" stroke-width="1"/>
<path d="M336.8,770.5 L339.3,773 L336.8,775.5 L334.3,773 Z" fill="#000000" stroke="none" stroke-width="1"/>
<path d="M340.4,770.5 L342.9,773 L340.4,775.5 L337.9,773 Z" fill="#000000" stroke="none" stroke-width="1"/>
<path d="M344,770.5 L346.5,773 L344,775.5 L341.5,773 Z" fill="#000000" stroke="none" stroke-width="1"/>
<line x1="254.9" y1="739.7" x2="340.1" y2="739.7" stroke="#231f20" stroke-width="1.25"/>
<text x="281.5" y="738.1" font-size="9.2" fill="#161616">p=0.0002</text>
<text x="266.8" y="876.7" font-size="10.6" fill="#161616">GPC peptides</text>
<text x="209.7" y="777.8" font-size="10.85" text-anchor="middle" fill="#161616" transform="rotate(-90 209.7 777.8)">ELISpot (SFU/10<tspan font-size="5.97" dy="-4.34">6</tspan><tspan dy="4.34"> splenocyte)</tspan></text>
<text x="390.4" y="692" font-size="10" fill="#161616">K</text>
<line x1="442.7" y1="693.78" x2="442.7" y2="864.3" stroke="#231f20" stroke-width="1.25"/>
<line x1="436.1" y1="863.7" x2="442.7" y2="863.7" stroke="#231f20" stroke-width="1.25"/>
<text x="434.4" y="868.5" font-size="10.5" text-anchor="end" fill="#161616">0</text>
<line x1="436.1" y1="835.48" x2="442.7" y2="835.48" stroke="#231f20" stroke-width="1.25"/>
<text x="434.4" y="840.28" font-size="10.5" text-anchor="end" fill="#161616">1000</text>
<line x1="436.1" y1="807.26" x2="442.7" y2="807.26" stroke="#231f20" stroke-width="1.25"/>
<text x="434.4" y="812.06" font-size="10.5" text-anchor="end" fill="#161616">2000</text>
<line x1="436.1" y1="779.04" x2="442.7" y2="779.04" stroke="#231f20" stroke-width="1.25"/>
<text x="434.4" y="783.84" font-size="10.5" text-anchor="end" fill="#161616">3000</text>
<line x1="436.1" y1="750.82" x2="442.7" y2="750.82" stroke="#231f20" stroke-width="1.25"/>
<text x="434.4" y="755.62" font-size="10.5" text-anchor="end" fill="#161616">4000</text>
<line x1="436.1" y1="722.6" x2="442.7" y2="722.6" stroke="#231f20" stroke-width="1.25"/>
<text x="434.4" y="727.4" font-size="10.5" text-anchor="end" fill="#161616">5000</text>
<line x1="436.1" y1="694.38" x2="442.7" y2="694.38" stroke="#231f20" stroke-width="1.25"/>
<text x="434.4" y="699.18" font-size="10.5" text-anchor="end" fill="#161616">6000</text>
<rect x="448.9" y="686.8" width="9.2" height="6" fill="#7b7c7c"/>
<text x="464.8" y="692.9" font-size="11" fill="#161616">LNP</text>
<rect x="448.9" y="696.9" width="9.2" height="6" fill="#8ea8cb"/>
<text x="464.8" y="703" font-size="11" fill="#161616">(1 µg mRNA-NP)+(1 µg mRNA-GPC)</text>
<rect x="448.9" y="708.8" width="9.2" height="6" fill="#9c7bb8"/>
<text x="464.8" y="714.9" font-size="11" fill="#161616">(5 µg mRNA-NP)+(5 µg mRNA-GPC)</text>
<rect x="468.9" y="852.3" width="14.7" height="11.4" fill="#8ea8cb"/>
<rect x="487.1" y="830.1" width="15.2" height="33.6" fill="#9c7bb8"/>
<rect x="538.8" y="754.1" width="14.9" height="109.6" fill="#8ea8cb"/>
<rect x="556.8" y="747.3" width="15" height="116.4" fill="#9c7bb8"/>
<rect x="608.6" y="755.8" width="15" height="107.9" fill="#8ea8cb"/>
<rect x="627.2" y="747.3" width="14.4" height="116.4" fill="#9c7bb8"/>
<line x1="436" y1="863.7" x2="645.2" y2="863.7" stroke="#231f20" stroke-width="1.25"/>
<path d="M452.6,861.2 L463.8,861.2 L464.8,865.5 L451.6,865.5 Z" fill="#8a8a8a" stroke="none" stroke-width="1"/>
<path d="M523.5,861.2 L534.7,861.2 L535.7,865.5 L522.5,865.5 Z" fill="#8a8a8a" stroke="none" stroke-width="1"/>
<path d="M593.4,861.2 L604.6,861.2 L605.6,865.5 L592.4,865.5 Z" fill="#8a8a8a" stroke="none" stroke-width="1"/>
<line x1="476.2" y1="848.8" x2="476.2" y2="852.3" stroke="#000000" stroke-width="1"/>
<line x1="472.2" y1="848.8" x2="480.2" y2="848.8" stroke="#000000" stroke-width="1"/>
<line x1="472.2" y1="852.3" x2="480.2" y2="852.3" stroke="#000000" stroke-width="1"/>
<line x1="494.7" y1="817.2" x2="494.7" y2="841.8" stroke="#000000" stroke-width="1"/>
<line x1="491.7" y1="817.2" x2="497.7" y2="817.2" stroke="#000000" stroke-width="1"/>
<line x1="491.7" y1="841.8" x2="497.7" y2="841.8" stroke="#000000" stroke-width="1"/>
<line x1="546.2" y1="749.3" x2="546.2" y2="760.1" stroke="#000000" stroke-width="1"/>
<line x1="542.7" y1="749.3" x2="549.7" y2="749.3" stroke="#000000" stroke-width="1"/>
<line x1="542.7" y1="760.1" x2="549.7" y2="760.1" stroke="#000000" stroke-width="1"/>
<line x1="616.1" y1="749.3" x2="616.1" y2="762" stroke="#000000" stroke-width="1"/>
<line x1="612.6" y1="749.3" x2="619.6" y2="749.3" stroke="#000000" stroke-width="1"/>
<line x1="612.6" y1="762" x2="619.6" y2="762" stroke="#000000" stroke-width="1"/>
<path d="M475.9,836.67 L478.5,841.35 L473.3,841.35 Z" fill="#000000" stroke="none" stroke-width="1"/>
<path d="M470.8,850.27 L473.4,854.95 L468.2,854.95 Z" fill="#000000" stroke="none" stroke-width="1"/>
<path d="M476,850.27 L478.6,854.95 L473.4,854.95 Z" fill="#000000" stroke="none" stroke-width="1"/>
<path d="M481.3,850.27 L483.9,854.95 L478.7,854.95 Z" fill="#000000" stroke="none" stroke-width="1"/>
<path d="M470.8,856.77 L473.4,861.45 L468.2,861.45 Z" fill="#000000" stroke="none" stroke-width="1"/>
<path d="M481.3,854.27 L483.9,858.95 L478.7,858.95 Z" fill="#000000" stroke="none" stroke-width="1"/>
<path d="M494.6,787.17 L497.2,791.85 L492,791.85 Z" fill="#000000" stroke="none" stroke-width="1"/>
<path d="M494.6,814.47 L497.2,819.15 L492,819.15 Z" fill="#000000" stroke="none" stroke-width="1"/>
<path d="M494.6,828.47 L497.2,833.15 L492,833.15 Z" fill="#000000" stroke="none" stroke-width="1"/>
<path d="M494.6,837.87 L497.2,842.55 L492,842.55 Z" fill="#000000" stroke="none" stroke-width="1"/>
<path d="M494.6,845.57 L497.2,850.25 L492,850.25 Z" fill="#000000" stroke="none" stroke-width="1"/>
<path d="M494.6,853.47 L497.2,858.15 L492,858.15 Z" fill="#000000" stroke="none" stroke-width="1"/>
<path d="M541.2,743.17 L543.8,747.85 L538.6,747.85 Z" fill="#000000" stroke="none" stroke-width="1"/>
<path d="M546,743.17 L548.6,747.85 L543.4,747.85 Z" fill="#000000" stroke="none" stroke-width="1"/>
<path d="M550.8,743.17 L553.4,747.85 L548.2,747.85 Z" fill="#000000" stroke="none" stroke-width="1"/>
<path d="M544.1,746.57 L546.7,751.25 L541.5,751.25 Z" fill="#000000" stroke="none" stroke-width="1"/>
<path d="M546,754.27 L548.6,758.95 L543.4,758.95 Z" fill="#000000" stroke="none" stroke-width="1"/>
<path d="M546,780.77 L548.6,785.45 L543.4,785.45 Z" fill="#000000" stroke="none" stroke-width="1"/>
<path d="M611.5,743.47 L614.1,748.15 L608.9,748.15 Z" fill="#000000" stroke="none" stroke-width="1"/>
<path d="M616.3,743.47 L618.9,748.15 L613.7,748.15 Z" fill="#000000" stroke="none" stroke-width="1"/>
<path d="M621.2,743.47 L623.8,748.15 L618.6,748.15 Z" fill="#000000" stroke="none" stroke-width="1"/>
<path d="M616.3,747.27 L618.9,751.95 L613.7,751.95 Z" fill="#000000" stroke="none" stroke-width="1"/>
<path d="M616.3,765.27 L618.9,769.95 L613.7,769.95 Z" fill="#000000" stroke="none" stroke-width="1"/>
<path d="M616.3,779.77 L618.9,784.45 L613.7,784.45 Z" fill="#000000" stroke="none" stroke-width="1"/>
<path d="M558.8,744.19 L561.1,748.33 L556.5,748.33 Z" fill="#000000" stroke="none" stroke-width="1"/>
<path d="M629,744.19 L631.3,748.33 L626.7,748.33 Z" fill="#000000" stroke="none" stroke-width="1"/>
<path d="M561,744.19 L563.3,748.33 L558.7,748.33 Z" fill="#000000" stroke="none" stroke-width="1"/>
<path d="M631.1,744.19 L633.4,748.33 L628.8,748.33 Z" fill="#000000" stroke="none" stroke-width="1"/>
<path d="M563.2,744.19 L565.5,748.33 L560.9,748.33 Z" fill="#000000" stroke="none" stroke-width="1"/>
<path d="M633.2,744.19 L635.5,748.33 L630.9,748.33 Z" fill="#000000" stroke="none" stroke-width="1"/>
<path d="M565.4,744.19 L567.7,748.33 L563.1,748.33 Z" fill="#000000" stroke="none" stroke-width="1"/>
<path d="M635.3,744.19 L637.6,748.33 L633,748.33 Z" fill="#000000" stroke="none" stroke-width="1"/>
<path d="M567.6,744.19 L569.9,748.33 L565.3,748.33 Z" fill="#000000" stroke="none" stroke-width="1"/>
<path d="M637.4,744.19 L639.7,748.33 L635.1,748.33 Z" fill="#000000" stroke="none" stroke-width="1"/>
<path d="M569.8,744.19 L572.1,748.33 L567.5,748.33 Z" fill="#000000" stroke="none" stroke-width="1"/>
<path d="M639.5,744.19 L641.8,748.33 L637.2,748.33 Z" fill="#000000" stroke="none" stroke-width="1"/>
<line x1="455" y1="778.4" x2="496.5" y2="778.4" stroke="#231f20" stroke-width="1.25"/>
<text x="455" y="776.8" font-size="9.2" fill="#161616">P=0.0008</text>
<line x1="522.3" y1="729" x2="571.6" y2="729" stroke="#231f20" stroke-width="1.25"/>
<text x="526.9" y="727.4" font-size="9.2" fill="#161616">P=0.0071</text>
<line x1="521.7" y1="740.1" x2="551.3" y2="740.1" stroke="#231f20" stroke-width="1.25"/>
<text x="516.9" y="738.5" font-size="9.2" fill="#161616">P=0.0071</text>
<line x1="592" y1="729" x2="640.3" y2="729" stroke="#231f20" stroke-width="1.25"/>
<text x="596.3" y="727.4" font-size="9.2" fill="#161616">P=0.0071</text>
<line x1="591.7" y1="740.1" x2="620.6" y2="740.1" stroke="#231f20" stroke-width="1.25"/>
<text x="586" y="738.5" font-size="9.2" fill="#161616">P=0.0071</text>
<text x="439.7" y="876.5" font-size="10.6" fill="#161616">NP peptides</text>
<text x="510.5" y="876.5" font-size="10.6" fill="#161616">GPC peptides</text>
<text x="587" y="876.5" font-size="10.6" fill="#161616">(NP+GPC)peptides</text>
<text x="405" y="777.3" font-size="10.85" text-anchor="middle" fill="#161616" transform="rotate(-90 405 777.3)">ELISpot (SFU/10<tspan font-size="5.97" dy="-4.34">6</tspan><tspan dy="4.34"> splenocyte)</tspan></text>
</svg>
</body></html>
